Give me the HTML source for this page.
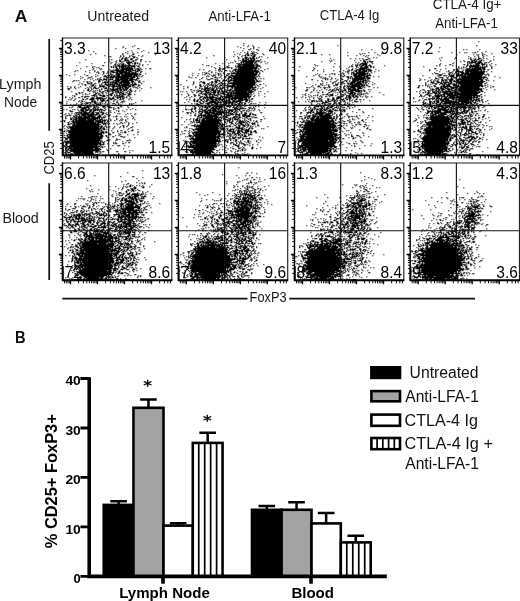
<!DOCTYPE html>
<html lang="en"><head><meta charset="utf-8"><title>Figure</title>
<style>html,body{margin:0;padding:0;background:#fff}svg{display:block}</style>
</head><body>
<svg width="520" height="601" viewBox="0 0 520 601" font-family="'Liberation Sans', sans-serif" fill="#000" style="will-change:transform">
<rect width="520" height="601" fill="#fff"/>
<g font-size="14" fill="#1a1a1a">
<text x="14.7" y="21.7" font-size="16" font-weight="bold" fill="#111" textLength="12.6" lengthAdjust="spacingAndGlyphs">A</text>
<text x="87.3" y="21.1" textLength="61.8" lengthAdjust="spacingAndGlyphs">Untreated</text>
<text x="208.4" y="20.9" textLength="62.6" lengthAdjust="spacingAndGlyphs">Anti-LFA-1</text>
<text x="319.8" y="20.3" textLength="59.6" lengthAdjust="spacingAndGlyphs">CTLA-4 Ig</text>
<text x="432.8" y="9.3" textLength="68.6" lengthAdjust="spacingAndGlyphs">CTLA-4 Ig+</text>
<text x="435.2" y="27.8" textLength="62.6" lengthAdjust="spacingAndGlyphs">Anti-LFA-1</text>
<text x="-0.9" y="89.3" textLength="42.4" lengthAdjust="spacingAndGlyphs">Lymph</text>
<text x="4.1" y="107" textLength="33" lengthAdjust="spacingAndGlyphs">Node</text>
<text x="2.4" y="223.2" textLength="36.4" lengthAdjust="spacingAndGlyphs">Blood</text>
<text transform="translate(53.8 174.6) rotate(-90)" textLength="33.4" lengthAdjust="spacingAndGlyphs">CD25</text>
<text x="249.6" y="301.7" textLength="37" lengthAdjust="spacingAndGlyphs">FoxP3</text>
</g>
<g stroke="#111" stroke-width="1.7" fill="none">
<path d="M49.2 39V130.8M49.2 183.2V280M62.3 298.6H247.5M289.3 298.6H475"/>
</g>
<g font-size="16.8">
<text transform="translate(64.1 54.1) scale(0.925 1)">3.3</text>
<text transform="translate(170.2 54.1) scale(0.925 1)" text-anchor="end">13</text>
<text transform="translate(64.5 153.2) scale(0.925 1)">82</text>
<text transform="translate(170.2 153.2) scale(0.925 1)" text-anchor="end">1.5</text>
</g>
<path transform="translate(.8 .8)" d="M134 45h0M123 46h0M132 46h0M122 47h0M115 48h0M125 48h0M137 48h1M88 50h0M131 50h0M143 50h0M93 51h0M127 51h0M141 51h0M125 52h0M132 52h0M137 52h0M148 52h0M95 53h0M122 53h0M127 53h0M133 53h0M90 54h0M122 54h0M132 54h1M155 54h0M104 55h0M120 55h0M123 55h0M129 55h0M131 55h0M138 55h0M142 55h0M109 56h1M120 56h0M123 56h0M129 56h0M132 56h2M141 56h0M119 57h0M122 57h0M125 57h1M128 57h0M133 57h1M136 57h0M121 58h1M124 58h2M130 58h2M137 58h0M85 59h0M109 59h0M111 59h0M119 59h0M121 59h0M124 59h1M127 59h0M130 59h1M135 59h1M140 59h1M116 60h0M119 60h1M124 60h4M132 60h1M135 60h0M140 60h0M109 61h0M115 61h0M119 61h1M122 61h1M126 61h0M128 61h1M131 61h0M133 61h0M140 61h0M145 61h0M149 61h0M79 62h0M104 62h0M111 62h0M116 62h0M121 62h0M126 62h5M134 62h1M137 62h0M91 63h0M110 63h0M115 63h0M118 63h0M120 63h0M122 63h1M127 63h2M132 63h0M134 63h1M137 63h0M139 63h0M114 64h1M117 64h0M119 64h0M121 64h2M125 64h0M128 64h1M134 64h0M139 64h0M142 64h0M147 64h0M76 65h0M102 65h1M113 65h0M115 65h0M117 65h2M121 65h13M136 65h0M138 65h0M142 65h0M86 66h0M92 66h0M94 66h0M110 66h1M113 66h0M115 66h1M118 66h7M127 66h2M131 66h3M137 66h1M92 67h0M96 67h0M98 67h0M111 67h0M113 67h0M115 67h1M119 67h0M121 67h2M125 67h6M134 67h0M139 67h0M80 68h0M93 68h0M99 68h0M101 68h0M116 68h1M119 68h0M121 68h11M134 68h0M136 68h2M140 68h0M145 68h0M149 68h1M92 69h0M100 69h0M109 69h0M113 69h0M115 69h3M120 69h12M135 69h0M137 69h2M141 69h0M75 70h0M77 70h0M89 70h0M94 70h0M110 70h2M114 70h9M125 70h5M132 70h3M137 70h2M74 71h0M85 71h0M94 71h0M97 71h0M102 71h1M107 71h0M110 71h3M116 71h10M128 71h3M135 71h2M140 71h1M89 72h0M96 72h0M98 72h0M103 72h0M107 72h0M110 72h0M112 72h5M119 72h10M131 72h4M140 72h0M98 73h0M103 73h0M106 73h0M110 73h0M116 73h6M124 73h13M139 73h0M145 73h0M66 74h0M74 74h0M84 74h0M95 74h0M102 74h0M108 74h0M110 74h2M115 74h4M121 74h16M139 74h1M69 75h0M86 75h1M97 75h0M104 75h1M107 75h2M111 75h0M113 75h1M116 75h3M121 75h10M133 75h3M138 75h0M142 75h0M80 76h0M91 76h0M95 76h0M103 76h3M108 76h0M110 76h24M136 76h1M139 76h0M141 76h0M82 77h0M88 77h2M100 77h0M106 77h1M109 77h4M115 77h13M130 77h4M137 77h0M80 78h0M87 78h0M92 78h0M97 78h0M99 78h0M103 78h1M106 78h0M110 78h0M112 78h0M115 78h3M120 78h12M136 78h2M84 79h0M90 79h0M95 79h0M97 79h0M99 79h2M103 79h3M108 79h4M115 79h12M129 79h7M73 80h1M76 80h0M78 80h0M93 80h0M98 80h1M102 80h0M106 80h0M108 80h0M113 80h6M121 80h11M135 80h0M137 80h0M139 80h0M72 81h0M83 81h0M86 81h1M89 81h0M98 81h1M104 81h1M107 81h1M110 81h0M112 81h1M115 81h3M120 81h8M131 81h2M138 81h1M143 81h0M79 82h0M87 82h0M90 82h1M98 82h0M102 82h6M110 82h6M118 82h11M131 82h1M134 82h0M138 82h0M140 82h0M81 83h0M87 83h2M91 83h0M94 83h1M101 83h0M105 83h0M108 83h0M110 83h0M112 83h0M114 83h3M119 83h2M123 83h6M132 83h0M134 83h1M141 83h0M78 84h0M82 84h0M84 84h1M90 84h0M92 84h1M99 84h0M101 84h0M104 84h10M116 84h3M121 84h7M130 84h6M138 84h0M85 85h0M91 85h2M95 85h0M99 85h1M102 85h1M106 85h2M110 85h0M112 85h2M116 85h0M118 85h12M132 85h1M138 85h1M67 86h0M70 86h0M74 86h0M80 86h0M89 86h0M91 86h0M94 86h0M99 86h5M108 86h1M111 86h9M122 86h4M128 86h2M132 86h0M134 86h0M137 86h0M70 87h0M74 87h0M78 87h0M87 87h0M90 87h0M93 87h2M98 87h0M103 87h0M105 87h1M112 87h1M117 87h0M119 87h3M124 87h4M133 87h0M135 87h1M139 87h0M150 87h0M67 88h2M75 88h0M85 88h0M88 88h0M91 88h0M93 88h0M95 88h2M101 88h0M104 88h2M109 88h1M112 88h1M115 88h5M122 88h1M125 88h2M130 88h0M137 88h0M141 88h0M68 89h0M87 89h1M91 89h0M99 89h0M101 89h0M107 89h0M110 89h7M119 89h2M123 89h3M129 89h1M83 90h0M87 90h1M90 90h0M93 90h0M95 90h0M97 90h0M99 90h0M104 90h3M109 90h0M111 90h4M117 90h1M120 90h1M123 90h1M126 90h0M128 90h0M130 90h1M135 90h0M139 90h0M71 91h0M89 91h0M92 91h0M94 91h0M99 91h1M102 91h1M107 91h1M110 91h0M112 91h0M115 91h3M120 91h0M122 91h0M127 91h0M129 91h0M131 91h0M134 91h0M78 92h1M81 92h1M93 92h0M95 92h0M97 92h0M101 92h1M105 92h0M112 92h1M115 92h0M117 92h4M123 92h0M125 92h1M129 92h1M75 93h1M79 93h0M85 93h0M89 93h0M95 93h1M98 93h1M102 93h0M106 93h0M110 93h2M116 93h0M119 93h0M121 93h2M127 93h2M76 94h0M82 94h0M85 94h0M87 94h0M93 94h2M98 94h0M100 94h0M103 94h0M109 94h2M114 94h0M116 94h0M119 94h1M122 94h3M128 94h2M134 94h0M72 95h0M74 95h0M91 95h3M96 95h0M99 95h5M106 95h1M110 95h1M114 95h0M116 95h3M121 95h1M127 95h1M65 96h0M74 96h0M81 96h1M84 96h4M94 96h0M96 96h0M102 96h2M113 96h0M115 96h0M117 96h0M119 96h4M126 96h0M129 96h0M65 97h0M69 97h0M72 97h0M78 97h1M84 97h0M91 97h2M96 97h5M106 97h0M109 97h0M112 97h1M116 97h4M122 97h0M124 97h0M126 97h0M130 97h0M71 98h0M75 98h0M82 98h0M86 98h1M90 98h3M95 98h10M108 98h5M117 98h0M120 98h0M122 98h1M129 98h0M68 99h0M70 99h0M74 99h0M82 99h1M85 99h0M89 99h4M97 99h0M100 99h0M102 99h1M107 99h0M110 99h1M114 99h1M119 99h1M122 99h0M128 99h0M131 99h0M73 100h0M79 100h0M81 100h0M91 100h1M94 100h0M97 100h0M100 100h4M106 100h2M113 100h0M117 100h0M123 100h0M141 100h0M66 101h0M78 101h0M81 101h1M84 101h0M91 101h4M101 101h1M105 101h0M108 101h0M113 101h0M116 101h0M121 101h1M124 101h0M80 102h0M85 102h5M92 102h0M94 102h1M97 102h0M99 102h1M105 102h0M110 102h0M116 102h1M120 102h0M122 102h0M135 102h0M66 103h0M76 103h0M81 103h1M84 103h0M86 103h1M90 103h0M94 103h2M98 103h0M100 103h0M102 103h0M104 103h0M107 103h1M112 103h2M118 103h0M129 103h0M131 103h0M133 103h0M70 104h0M73 104h0M75 104h0M78 104h0M80 104h1M85 104h0M89 104h0M92 104h1M96 104h4M105 104h0M107 104h1M115 104h0M118 104h0M120 104h0M129 104h0M131 104h0M77 105h4M83 105h1M86 105h1M90 105h2M94 105h4M100 105h0M102 105h2M106 105h2M110 105h0M116 105h0M118 105h0M120 105h0M135 105h0M72 106h0M78 106h2M84 106h0M86 106h4M93 106h1M96 106h0M102 106h2M107 106h0M109 106h0M120 106h1M127 106h0M69 107h0M71 107h0M77 107h0M79 107h9M93 107h2M97 107h1M103 107h0M105 107h0M108 107h3M113 107h0M117 107h1M128 107h0M81 108h4M88 108h1M92 108h1M95 108h0M97 108h0M100 108h0M104 108h0M113 108h0M115 108h0M118 108h0M132 108h0M63 109h0M66 109h0M72 109h0M74 109h0M77 109h0M80 109h3M85 109h3M90 109h1M93 109h9M105 109h0M108 109h0M113 109h0M126 109h0M130 109h0M135 109h0M69 110h1M78 110h0M80 110h3M85 110h2M89 110h2M93 110h2M97 110h0M99 110h0M101 110h0M103 110h1M108 110h0M110 110h0M116 110h0M118 110h0M122 110h0M70 111h2M79 111h0M81 111h4M89 111h1M92 111h1M99 111h0M101 111h0M109 111h0M118 111h0M124 111h0M75 112h6M83 112h6M91 112h2M95 112h3M100 112h3M106 112h0M108 112h0M110 112h0M114 112h0M65 113h0M68 113h0M71 113h0M74 113h0M76 113h0M78 113h0M80 113h8M90 113h3M96 113h2M102 113h1M105 113h0M117 113h0M119 113h0M127 113h0M130 113h0M135 113h0M64 114h0M69 114h0M75 114h0M77 114h2M81 114h16M99 114h0M101 114h1M106 114h1M109 114h0M125 114h0M134 114h0M66 115h1M69 115h1M73 115h0M75 115h1M79 115h0M81 115h4M87 115h6M95 115h0M98 115h2M104 115h0M108 115h1M116 115h0M131 115h0M65 116h0M73 116h1M76 116h5M83 116h11M97 116h3M103 116h0M105 116h0M108 116h0M113 116h0M115 116h1M120 116h0M124 116h0M126 116h0M132 116h0M65 117h0M70 117h0M72 117h0M74 117h2M78 117h11M91 117h8M101 117h3M133 117h0M65 118h0M70 118h1M73 118h0M75 118h22M99 118h0M101 118h0M109 118h0M116 118h0M121 118h0M127 118h0M132 118h0M70 119h1M73 119h3M78 119h7M87 119h8M97 119h0M99 119h3M104 119h0M106 119h0M110 119h0M116 119h0M120 119h0M122 119h0M125 119h0M134 119h0M63 120h1M72 120h1M75 120h18M95 120h5M102 120h3M107 120h0M110 120h0M114 120h0M119 120h0M121 120h0M125 120h0M64 121h0M69 121h0M71 121h22M95 121h7M104 121h0M107 121h1M126 121h0M67 122h1M72 122h23M97 122h5M104 122h0M106 122h0M120 122h1M124 122h0M128 122h0M136 122h0M68 123h0M70 123h1M73 123h1M76 123h22M102 123h3M107 123h0M109 123h0M113 123h0M116 123h0M119 123h0M122 123h0M128 123h0M132 123h0M67 124h2M72 124h28M103 124h0M105 124h0M117 124h0M128 124h0M64 125h0M72 125h26M101 125h0M105 125h0M122 125h1M127 125h0M63 126h0M66 126h0M68 126h34M104 126h0M106 126h0M109 126h0M114 126h0M120 126h0M123 126h0M126 126h0M132 126h0M67 127h0M69 127h29M100 127h1M103 127h0M106 127h0M108 127h0M113 127h0M119 127h0M123 127h0M130 127h1M64 128h0M68 128h0M70 128h30M102 128h2M112 128h0M128 128h0M66 129h0M70 129h29M101 129h0M103 129h1M106 129h0M127 129h0M132 129h0M137 129h0M64 130h0M67 130h31M100 130h1M111 130h0M117 130h0M120 130h1M131 130h1M63 131h1M66 131h0M68 131h31M101 131h2M105 131h1M117 131h0M124 131h1M128 131h0M138 131h0M68 132h30M100 132h3M105 132h1M112 132h1M120 132h0M122 132h0M124 132h1M137 132h0M63 133h0M66 133h0M69 133h32M103 133h0M108 133h1M118 133h0M67 134h34M109 134h1M119 134h1M127 134h0M133 134h0M137 134h0M63 135h1M66 135h1M69 135h29M100 135h2M105 135h1M115 135h0M118 135h0M67 136h35M106 136h0M112 136h1M120 136h2M124 136h0M63 137h2M67 137h34M107 137h0M123 137h0M134 137h0M65 138h2M69 138h32M116 138h0M65 139h1M69 139h30M107 139h0M109 139h0M116 139h1M119 139h0M129 139h0M64 140h0M67 140h0M69 140h32M106 140h2M115 140h0M126 140h2M130 140h0M64 141h4M70 141h28M100 141h0M102 141h0M104 141h0M122 141h0M63 142h0M65 142h0M67 142h33M102 142h1M113 142h0M115 142h0M125 142h0M128 142h1M66 143h1M69 143h31M103 143h0M107 143h0M113 143h0M115 143h1M122 143h1M65 144h1M70 144h27M99 144h4M63 145h1M69 145h27M98 145h0M100 145h0M112 145h0M117 145h2M124 145h0M64 146h1M67 146h32M101 146h1M104 146h0M128 146h0M65 147h0M69 147h1M72 147h25M100 147h0M102 147h0M65 148h0M67 148h3M72 148h20M94 148h5M110 148h0M123 148h0M67 149h1M70 149h30M106 149h0M63 150h0M67 150h0M69 150h29M107 150h0M129 150h0M132 150h0M65 151h0M72 151h20M95 151h2M99 151h1M102 151h1M116 151h1M124 151h1M64 152h1M73 152h6M81 152h11M95 152h0M97 152h0M100 152h0M129 152h0M63 153h0M65 153h1M68 153h0M70 153h2M74 153h19M99 153h0M118 153h0M65 154h1M68 154h30M102 154h0M105 154h0M111 154h0M113 154h1M118 154h0M124 154h0" stroke="#000" stroke-width="1.12" stroke-linecap="square" fill="none"/>
<path d="M58.9 129.5H62.5M58.9 102.5H62.5M58.9 75.5H62.5M58.9 48.5H62.5M70.5 155.4V159.5M97.5 155.4V159.5M124.5 155.4V159.5M151.5 155.4V159.5" stroke="#000" stroke-width="1.3" fill="none"/>
<path d="M60.2 148.4H62.5M60.2 143.6H62.5M60.2 140.2H62.5M60.2 137.6H62.5M60.2 135.5H62.5M60.2 133.7H62.5M60.2 132.1H62.5M60.2 130.7H62.5M60.2 121.4H62.5M60.2 116.6H62.5M60.2 113.2H62.5M60.2 110.6H62.5M60.2 108.5H62.5M60.2 106.7H62.5M60.2 105.1H62.5M60.2 103.7H62.5M60.2 94.4H62.5M60.2 89.6H62.5M60.2 86.2H62.5M60.2 83.6H62.5M60.2 81.5H62.5M60.2 79.7H62.5M60.2 78.1H62.5M60.2 76.7H62.5M60.2 67.4H62.5M60.2 62.6H62.5M60.2 59.2H62.5M60.2 56.6H62.5M60.2 54.5H62.5M60.2 52.7H62.5M60.2 51.1H62.5M60.2 49.7H62.5M60.2 40.4H62.5M64.5 155.4V158.5M66.3 155.4V158.5M67.9 155.4V158.5M69.3 155.4V158.5M78.6 155.4V158.5M83.4 155.4V158.5M86.8 155.4V158.5M89.4 155.4V158.5M91.5 155.4V158.5M93.3 155.4V158.5M94.9 155.4V158.5M96.3 155.4V158.5M105.6 155.4V158.5M110.4 155.4V158.5M113.8 155.4V158.5M116.4 155.4V158.5M118.5 155.4V158.5M120.3 155.4V158.5M121.9 155.4V158.5M123.3 155.4V158.5M132.6 155.4V158.5M137.4 155.4V158.5M140.8 155.4V158.5M143.4 155.4V158.5M145.5 155.4V158.5M147.3 155.4V158.5M148.9 155.4V158.5M150.3 155.4V158.5M159.6 155.4V158.5M164.4 155.4V158.5M167.8 155.4V158.5M170.4 155.4V158.5" stroke="#000" stroke-width=".95" fill="none"/>
<path d="M62.5 38.0H171.8V155.4" fill="none" stroke="#222" stroke-width="1.15"/>
<path d="M62.5 37.5V155.4" fill="none" stroke="#000" stroke-width="1.4"/>
<path d="M61.8 155.4H172.4M62.8 141.4V155.4" fill="none" stroke="#000" stroke-width="1.9"/>
<path d="M108.7 38.0V155.4M62.5 105.4H171.8" stroke="#111" stroke-width="1.1" fill="none"/>
<g font-size="16.8">
<text transform="translate(180.0 54.1) scale(0.925 1)">4.2</text>
<text transform="translate(286.1 54.1) scale(0.925 1)" text-anchor="end">40</text>
<text transform="translate(180.4 153.2) scale(0.925 1)">45</text>
<text transform="translate(286.1 153.2) scale(0.925 1)" text-anchor="end">7</text>
</g>
<path transform="translate(.8 .8)" d="M243 43h0M243 45h0M248 45h0M252 45h0M237 46h0M247 46h0M253 46h0M240 47h0M253 47h0M258 47h0M243 48h0M250 48h0M253 48h0M248 49h1M256 49h1M242 50h0M258 50h0M233 51h0M247 51h0M251 51h0M253 51h0M240 52h0M244 52h0M247 52h0M252 52h0M254 52h0M256 52h0M237 53h0M246 53h1M250 53h3M257 53h0M262 53h0M234 54h0M239 54h0M245 54h0M247 54h1M252 54h0M254 54h1M263 54h0M213 55h0M242 55h0M244 55h1M247 55h1M250 55h1M253 55h1M233 56h0M237 56h0M241 56h0M245 56h0M252 56h2M259 56h0M261 56h0M206 57h0M224 57h0M238 57h0M244 57h3M249 57h1M252 57h1M256 57h0M258 57h0M267 57h0M238 58h0M242 58h1M245 58h1M248 58h0M250 58h4M256 58h0M226 59h0M242 59h1M245 59h3M250 59h1M253 59h1M260 59h0M234 60h0M238 60h0M240 60h0M242 60h4M248 60h6M256 60h3M224 61h0M235 61h0M241 61h12M255 61h1M258 61h0M261 61h0M264 61h0M230 62h0M232 62h0M240 62h1M243 62h0M245 62h7M254 62h1M260 62h0M267 62h0M215 63h0M222 63h0M228 63h0M236 63h3M241 63h0M243 63h9M254 63h0M256 63h0M265 63h0M202 64h0M238 64h15M255 64h2M206 65h0M208 65h0M219 65h0M224 65h0M228 65h0M235 65h0M237 65h3M242 65h12M256 65h3M211 66h0M226 66h1M235 66h0M237 66h16M255 66h2M259 66h0M214 67h0M219 67h0M225 67h0M227 67h2M231 67h0M236 67h0M238 67h18M260 67h0M215 68h0M219 68h1M222 68h2M231 68h0M235 68h0M238 68h18M258 68h0M267 68h0M199 69h0M203 69h0M218 69h1M222 69h0M233 69h19M254 69h1M258 69h0M264 69h0M209 70h0M215 70h0M218 70h0M220 70h0M224 70h2M229 70h0M232 70h0M234 70h1M237 70h20M260 70h1M208 71h0M211 71h0M219 71h0M221 71h0M230 71h0M232 71h0M235 71h23M262 71h0M202 72h0M204 72h0M206 72h0M211 72h0M215 72h0M223 72h0M231 72h0M233 72h1M236 72h17M255 72h2M259 72h0M192 73h0M198 73h0M205 73h1M208 73h0M217 73h1M220 73h0M223 73h0M227 73h2M231 73h25M259 73h0M202 74h0M204 74h0M209 74h0M213 74h0M215 74h0M218 74h0M220 74h0M226 74h0M228 74h0M231 74h0M235 74h21M258 74h0M192 75h0M197 75h0M207 75h0M211 75h0M213 75h1M218 75h0M221 75h0M226 75h1M230 75h25M258 75h0M188 76h0M206 76h0M208 76h0M212 76h0M215 76h0M220 76h0M224 76h1M228 76h2M232 76h22M256 76h1M259 76h0M189 77h0M191 77h0M195 77h0M202 77h0M214 77h1M217 77h0M219 77h0M225 77h0M228 77h3M233 77h22M201 78h0M206 78h0M210 78h2M216 78h0M221 78h0M227 78h1M231 78h24M258 78h0M260 78h0M263 78h0M199 79h0M207 79h2M214 79h1M217 79h0M223 79h0M226 79h0M228 79h0M230 79h1M233 79h20M255 79h1M186 80h0M215 80h4M222 80h4M228 80h26M256 80h1M259 80h0M193 81h0M200 81h1M203 81h0M211 81h1M214 81h2M219 81h0M222 81h0M227 81h2M233 81h21M256 81h2M260 81h0M193 82h0M199 82h0M202 82h2M209 82h0M211 82h1M215 82h1M220 82h1M228 82h0M230 82h25M193 83h0M203 83h1M207 83h1M211 83h0M214 83h0M218 83h1M221 83h4M227 83h27M263 83h0M180 84h0M192 84h0M199 84h1M206 84h0M208 84h0M210 84h1M213 84h0M215 84h0M217 84h0M220 84h0M222 84h0M224 84h0M227 84h0M232 84h22M256 84h0M259 84h1M199 85h1M203 85h0M205 85h0M207 85h0M209 85h0M211 85h2M215 85h1M219 85h2M223 85h11M236 85h16M254 85h0M257 85h0M265 85h0M183 86h0M187 86h0M195 86h0M200 86h1M204 86h0M207 86h0M212 86h0M214 86h1M217 86h0M219 86h0M222 86h0M227 86h25M255 86h0M258 86h0M187 87h0M195 87h0M199 87h0M204 87h3M209 87h1M212 87h0M214 87h0M216 87h0M218 87h0M220 87h0M222 87h2M226 87h1M231 87h1M234 87h21M262 87h0M183 88h0M199 88h0M201 88h1M204 88h5M211 88h2M216 88h1M219 88h3M227 88h0M230 88h0M232 88h0M234 88h16M252 88h1M257 88h0M260 88h0M190 89h1M197 89h0M201 89h0M203 89h2M207 89h1M210 89h3M215 89h1M219 89h0M221 89h0M224 89h1M227 89h0M229 89h2M234 89h15M251 89h4M193 90h1M196 90h0M198 90h2M204 90h5M211 90h4M217 90h2M221 90h1M224 90h0M226 90h4M232 90h19M254 90h0M180 91h0M182 91h0M186 91h0M191 91h0M197 91h1M200 91h3M205 91h1M208 91h0M210 91h0M213 91h2M217 91h2M221 91h5M229 91h0M231 91h2M235 91h11M248 91h5M258 91h0M260 91h0M267 91h0M192 92h0M196 92h0M201 92h0M205 92h4M211 92h4M217 92h1M220 92h0M222 92h2M226 92h5M233 92h18M187 93h0M199 93h2M203 93h2M207 93h0M209 93h1M213 93h1M217 93h1M220 93h4M227 93h1M230 93h18M250 93h0M253 93h0M258 93h0M264 93h0M181 94h0M188 94h0M193 94h1M198 94h0M202 94h0M204 94h2M208 94h6M216 94h0M218 94h1M223 94h8M233 94h0M235 94h14M251 94h0M188 95h0M194 95h1M198 95h1M205 95h1M209 95h0M212 95h0M214 95h3M220 95h1M226 95h22M250 95h0M254 95h0M258 95h0M186 96h0M191 96h0M194 96h0M200 96h2M204 96h0M206 96h1M209 96h4M217 96h0M220 96h12M234 96h16M253 96h0M264 96h0M184 97h0M189 97h0M199 97h1M203 97h13M218 97h2M222 97h0M224 97h5M231 97h15M248 97h1M194 98h0M199 98h0M202 98h1M205 98h0M207 98h0M209 98h3M215 98h5M222 98h2M226 98h0M228 98h14M244 98h2M248 98h0M251 98h1M186 99h0M189 99h0M193 99h1M197 99h1M200 99h1M203 99h0M206 99h2M210 99h6M218 99h6M226 99h0M228 99h1M231 99h1M234 99h1M238 99h9M249 99h0M251 99h0M193 100h1M196 100h1M200 100h1M204 100h0M206 100h1M209 100h0M211 100h2M215 100h2M219 100h0M221 100h1M225 100h4M232 100h2M236 100h6M245 100h2M249 100h0M188 101h0M194 101h0M196 101h1M199 101h0M202 101h1M205 101h1M209 101h6M217 101h1M220 101h0M222 101h4M228 101h2M232 101h8M245 101h1M249 101h0M251 101h0M184 102h0M199 102h1M203 102h0M207 102h14M223 102h10M235 102h1M239 102h3M244 102h0M248 102h0M259 102h0M265 102h0M191 103h0M194 103h0M196 103h1M200 103h2M205 103h4M211 103h0M214 103h3M220 103h0M223 103h3M228 103h1M231 103h1M234 103h0M237 103h2M241 103h0M244 103h1M250 103h1M253 103h0M255 103h0M196 104h3M207 104h1M211 104h2M215 104h2M219 104h6M228 104h0M231 104h1M234 104h2M238 104h2M242 104h0M244 104h0M249 104h0M258 104h0M264 104h0M188 105h0M190 105h0M193 105h0M195 105h0M197 105h1M202 105h0M204 105h2M208 105h1M214 105h9M226 105h1M230 105h0M233 105h1M236 105h2M243 105h0M245 105h1M249 105h2M255 105h0M185 106h0M192 106h0M194 106h0M198 106h0M200 106h2M204 106h1M207 106h3M212 106h10M226 106h4M233 106h0M236 106h1M239 106h2M244 106h0M253 106h0M255 106h0M258 106h0M194 107h1M199 107h0M202 107h0M204 107h3M209 107h0M211 107h2M215 107h1M218 107h3M223 107h1M229 107h0M232 107h4M238 107h0M240 107h0M242 107h0M248 107h2M253 107h0M264 107h0M185 108h0M191 108h1M194 108h1M199 108h0M201 108h0M206 108h1M210 108h9M221 108h0M224 108h2M234 108h3M239 108h6M249 108h0M251 108h1M254 108h0M185 109h1M188 109h0M190 109h1M194 109h0M198 109h0M200 109h2M204 109h2M208 109h2M212 109h3M217 109h1M220 109h2M224 109h0M227 109h8M237 109h2M247 109h1M254 109h0M258 109h0M191 110h0M195 110h0M199 110h0M202 110h3M207 110h9M218 110h2M222 110h0M224 110h2M228 110h4M235 110h1M239 110h0M242 110h2M246 110h0M249 110h0M251 110h0M253 110h0M259 110h0M182 111h0M191 111h1M195 111h0M198 111h4M204 111h3M209 111h1M212 111h12M226 111h0M228 111h1M231 111h1M234 111h1M237 111h0M240 111h1M246 111h0M248 111h0M186 112h2M190 112h0M193 112h0M198 112h0M201 112h1M204 112h10M216 112h12M230 112h0M233 112h1M236 112h0M241 112h0M244 112h1M250 112h0M260 112h1M187 113h0M190 113h0M195 113h0M199 113h2M205 113h4M211 113h10M223 113h1M226 113h0M228 113h4M235 113h1M239 113h0M241 113h0M244 113h2M249 113h1M252 113h0M194 114h0M198 114h0M200 114h1M203 114h2M207 114h4M213 114h8M224 114h2M228 114h0M230 114h3M235 114h4M242 114h3M249 114h1M252 114h3M190 115h0M194 115h1M198 115h18M218 115h0M221 115h0M223 115h1M226 115h3M235 115h0M238 115h1M242 115h7M255 115h0M197 116h1M201 116h0M203 116h14M220 116h0M222 116h4M233 116h4M239 116h0M242 116h2M246 116h3M251 116h0M253 116h0M263 116h0M181 117h0M197 117h0M199 117h2M203 117h0M205 117h7M214 117h7M223 117h0M225 117h2M230 117h0M232 117h2M236 117h0M238 117h2M245 117h1M252 117h0M254 117h2M190 118h0M193 118h0M196 118h1M199 118h0M202 118h14M218 118h0M221 118h0M223 118h1M228 118h2M232 118h0M234 118h1M237 118h1M242 118h0M244 118h0M247 118h0M249 118h1M264 118h0M186 119h0M189 119h0M193 119h0M195 119h2M199 119h0M201 119h3M206 119h14M223 119h4M229 119h1M232 119h0M234 119h3M239 119h0M244 119h0M248 119h0M250 119h0M260 119h1M193 120h0M195 120h4M201 120h20M227 120h2M232 120h0M237 120h0M239 120h1M242 120h0M244 120h0M246 120h0M250 120h0M253 120h0M256 120h0M184 121h0M190 121h1M193 121h0M196 121h0M198 121h1M201 121h17M220 121h0M224 121h1M227 121h0M229 121h0M231 121h1M236 121h0M238 121h5M245 121h0M247 121h1M255 121h1M260 121h0M192 122h0M194 122h0M196 122h23M221 122h0M225 122h0M229 122h2M235 122h0M238 122h6M246 122h0M249 122h0M252 122h0M254 122h0M257 122h0M190 123h0M200 123h20M222 123h0M226 123h0M231 123h1M235 123h0M237 123h0M239 123h2M245 123h0M247 123h0M251 123h3M181 124h0M188 124h0M194 124h1M197 124h0M199 124h18M219 124h5M230 124h0M233 124h0M236 124h0M238 124h0M240 124h3M245 124h0M247 124h1M252 124h0M254 124h0M257 124h0M191 125h3M196 125h23M221 125h1M226 125h0M228 125h1M234 125h1M238 125h1M242 125h2M246 125h0M248 125h0M250 125h0M257 125h1M186 126h0M194 126h24M220 126h2M225 126h2M229 126h1M232 126h0M236 126h0M238 126h1M243 126h1M247 126h0M250 126h0M252 126h0M255 126h0M267 126h0M184 127h0M186 127h0M196 127h0M198 127h19M219 127h1M222 127h1M235 127h4M241 127h1M246 127h0M249 127h0M251 127h0M189 128h0M191 128h0M195 128h23M220 128h4M226 128h1M230 128h0M232 128h0M234 128h0M237 128h5M244 128h0M248 128h1M251 128h1M261 128h0M263 128h0M192 129h25M219 129h0M221 129h3M227 129h0M229 129h4M236 129h0M238 129h0M241 129h2M245 129h3M184 130h1M189 130h0M193 130h0M197 130h21M220 130h0M223 130h0M226 130h0M228 130h2M233 130h0M235 130h0M237 130h4M244 130h4M250 130h0M254 130h1M181 131h0M188 131h0M191 131h0M194 131h26M223 131h1M227 131h0M229 131h5M237 131h2M241 131h1M245 131h3M250 131h1M253 131h2M189 132h0M192 132h27M223 132h1M227 132h0M232 132h2M237 132h2M242 132h4M250 132h1M255 132h1M182 133h0M184 133h0M188 133h0M192 133h1M195 133h24M221 133h2M227 133h3M232 133h0M234 133h4M240 133h0M244 133h0M246 133h0M248 133h0M250 133h0M180 134h0M189 134h0M193 134h23M218 134h5M225 134h0M229 134h0M231 134h0M234 134h1M238 134h1M241 134h1M244 134h0M248 134h3M188 135h3M193 135h22M217 135h2M223 135h0M227 135h0M229 135h1M233 135h0M236 135h0M238 135h0M240 135h0M242 135h0M244 135h1M248 135h0M185 136h0M187 136h0M189 136h1M192 136h1M195 136h25M222 136h0M226 136h0M228 136h0M230 136h0M232 136h0M235 136h0M240 136h0M243 136h3M259 136h0M191 137h1M195 137h23M221 137h0M223 137h0M229 137h0M232 137h3M237 137h3M242 137h0M249 137h0M262 137h0M189 138h26M217 138h2M229 138h1M232 138h2M238 138h0M242 138h1M245 138h4M251 138h0M190 139h0M192 139h25M219 139h0M225 139h1M228 139h0M230 139h0M235 139h1M242 139h0M258 139h0M183 140h0M185 140h0M191 140h0M193 140h26M222 140h0M224 140h1M227 140h0M230 140h0M233 140h0M235 140h1M240 140h0M247 140h1M256 140h0M260 140h0M184 141h0M187 141h1M190 141h30M224 141h0M226 141h1M235 141h0M238 141h0M240 141h0M244 141h0M247 141h1M250 141h0M256 141h0M189 142h0M192 142h23M218 142h0M227 142h0M230 142h2M236 142h0M239 142h0M241 142h0M246 142h0M248 142h0M258 142h0M186 143h0M189 143h1M192 143h24M218 143h0M230 143h0M233 143h0M236 143h0M239 143h0M241 143h2M249 143h0M190 144h1M193 144h0M195 144h20M217 144h0M219 144h0M221 144h0M224 144h0M233 144h2M238 144h0M243 144h2M247 144h0M252 144h0M257 144h0M187 145h1M191 145h25M218 145h0M226 145h0M235 145h3M244 145h0M249 145h0M184 146h0M187 146h2M191 146h2M195 146h21M222 146h0M232 146h0M237 146h1M242 146h0M252 146h0M188 147h1M191 147h22M215 147h0M224 147h1M230 147h0M238 147h0M240 147h0M243 147h0M251 147h1M260 147h0M193 148h20M227 148h0M232 148h1M238 148h1M242 148h0M244 148h0M251 148h1M256 148h0M180 149h0M183 149h0M187 149h27M219 149h0M222 149h0M235 149h0M241 149h1M245 149h0M189 150h0M191 150h1M194 150h17M216 150h1M225 150h0M230 150h0M237 150h1M240 150h0M242 150h0M244 150h0M185 151h1M190 151h22M231 151h0M235 151h0M237 151h0M187 152h0M190 152h2M194 152h16M212 152h1M216 152h0M219 152h0M225 152h1M234 152h0M244 152h0M192 153h1M195 153h15M214 153h0M235 153h0M237 153h0M242 153h0M247 153h0M180 154h1M183 154h33M219 154h6M227 154h2M231 154h0M235 154h0M237 154h2M241 154h0M243 154h3M249 154h0" stroke="#000" stroke-width="1.12" stroke-linecap="square" fill="none"/>
<path d="M174.8 129.5H178.4M174.8 102.5H178.4M174.8 75.5H178.4M174.8 48.5H178.4M186.4 155.4V159.5M213.4 155.4V159.5M240.4 155.4V159.5M267.4 155.4V159.5" stroke="#000" stroke-width="1.3" fill="none"/>
<path d="M176.1 148.4H178.4M176.1 143.6H178.4M176.1 140.2H178.4M176.1 137.6H178.4M176.1 135.5H178.4M176.1 133.7H178.4M176.1 132.1H178.4M176.1 130.7H178.4M176.1 121.4H178.4M176.1 116.6H178.4M176.1 113.2H178.4M176.1 110.6H178.4M176.1 108.5H178.4M176.1 106.7H178.4M176.1 105.1H178.4M176.1 103.7H178.4M176.1 94.4H178.4M176.1 89.6H178.4M176.1 86.2H178.4M176.1 83.6H178.4M176.1 81.5H178.4M176.1 79.7H178.4M176.1 78.1H178.4M176.1 76.7H178.4M176.1 67.4H178.4M176.1 62.6H178.4M176.1 59.2H178.4M176.1 56.6H178.4M176.1 54.5H178.4M176.1 52.7H178.4M176.1 51.1H178.4M176.1 49.7H178.4M176.1 40.4H178.4M180.4 155.4V158.5M182.2 155.4V158.5M183.8 155.4V158.5M185.2 155.4V158.5M194.5 155.4V158.5M199.3 155.4V158.5M202.7 155.4V158.5M205.3 155.4V158.5M207.4 155.4V158.5M209.2 155.4V158.5M210.8 155.4V158.5M212.2 155.4V158.5M221.5 155.4V158.5M226.3 155.4V158.5M229.7 155.4V158.5M232.3 155.4V158.5M234.4 155.4V158.5M236.2 155.4V158.5M237.8 155.4V158.5M239.2 155.4V158.5M248.5 155.4V158.5M253.3 155.4V158.5M256.7 155.4V158.5M259.3 155.4V158.5M261.4 155.4V158.5M263.2 155.4V158.5M264.8 155.4V158.5M266.2 155.4V158.5M275.5 155.4V158.5M280.3 155.4V158.5M283.7 155.4V158.5M286.3 155.4V158.5" stroke="#000" stroke-width=".95" fill="none"/>
<path d="M178.4 38.0H287.7V155.4" fill="none" stroke="#222" stroke-width="1.15"/>
<path d="M178.4 37.5V155.4" fill="none" stroke="#000" stroke-width="1.4"/>
<path d="M177.7 155.4H288.2M178.7 141.4V155.4" fill="none" stroke="#000" stroke-width="1.9"/>
<path d="M224.6 38.0V155.4M178.4 105.4H287.7" stroke="#111" stroke-width="1.1" fill="none"/>
<g font-size="16.8">
<text transform="translate(296.1 54.1) scale(0.925 1)">2.1</text>
<text transform="translate(402.2 54.1) scale(0.925 1)" text-anchor="end">9.8</text>
<text transform="translate(296.5 153.2) scale(0.925 1)">87</text>
<text transform="translate(402.2 153.2) scale(0.925 1)" text-anchor="end">1.3</text>
</g>
<path transform="translate(.8 .8)" d="M337 45h0M361 49h0M371 49h0M347 52h0M368 52h0M374 52h0M359 53h0M362 53h0M364 53h0M381 53h0M321 54h0M329 54h0M360 54h0M377 54h0M347 55h0M356 55h0M363 55h0M366 55h0M368 55h0M379 55h0M365 56h0M367 57h0M373 57h0M376 57h0M330 58h0M350 58h0M355 58h0M359 58h0M362 58h0M368 58h1M333 59h0M363 59h0M365 59h2M329 60h0M331 60h0M354 60h0M360 60h0M363 60h1M369 60h0M321 61h0M330 61h0M363 61h2M367 61h0M369 61h3M355 62h0M358 62h0M362 62h0M364 62h1M367 62h0M371 62h0M334 63h0M357 63h0M360 63h6M372 63h0M314 64h0M352 64h0M355 64h0M357 64h0M359 64h1M362 64h4M369 64h0M315 65h0M317 65h0M351 65h0M355 65h2M359 65h0M361 65h2M365 65h1M368 65h2M384 65h0M299 66h0M333 66h0M339 66h0M349 66h0M351 66h1M356 66h0M360 66h1M364 66h3M370 66h1M373 66h0M313 67h0M348 67h0M356 67h0M358 67h0M360 67h7M370 67h0M373 67h0M314 68h0M340 68h0M346 68h0M352 68h0M355 68h0M359 68h7M368 68h0M313 69h0M323 69h0M348 69h0M351 69h1M356 69h8M366 69h4M375 69h0M298 70h0M312 70h0M317 70h0M333 70h0M343 70h0M347 70h0M349 70h0M351 70h0M354 70h2M358 70h2M362 70h4M368 70h3M378 70h0M323 71h0M339 71h0M345 71h0M347 71h1M353 71h0M355 71h1M358 71h8M368 71h0M370 71h0M374 71h0M342 72h0M347 72h0M351 72h2M356 72h8M367 72h0M371 72h0M317 73h0M331 73h1M334 73h0M341 73h0M343 73h0M348 73h0M351 73h0M353 73h14M369 73h0M315 74h0M319 74h0M325 74h0M329 74h0M334 74h0M338 74h0M340 74h0M343 74h0M351 74h0M353 74h3M358 74h7M367 74h0M369 74h0M313 75h0M318 75h0M341 75h0M344 75h0M353 75h11M366 75h4M306 76h0M319 76h0M321 76h0M329 76h0M340 76h0M342 76h1M346 76h2M350 76h1M354 76h7M363 76h4M373 76h0M378 76h0M320 77h0M323 77h0M325 77h0M331 77h0M340 77h0M347 77h1M350 77h0M352 77h0M354 77h10M366 77h3M322 78h0M324 78h1M327 78h0M331 78h0M335 78h0M341 78h0M348 78h0M350 78h0M352 78h13M367 78h2M311 79h1M325 79h0M327 79h0M330 79h0M337 79h0M341 79h1M347 79h0M352 79h11M365 79h0M367 79h0M317 80h0M321 80h0M336 80h0M344 80h2M349 80h0M352 80h6M360 80h0M362 80h4M368 80h0M322 81h0M330 81h0M334 81h1M340 81h0M342 81h1M346 81h0M349 81h0M351 81h4M357 81h6M365 81h0M367 81h0M369 81h0M326 82h0M332 82h1M338 82h0M340 82h2M347 82h0M350 82h4M356 82h4M362 82h1M365 82h1M372 82h0M305 83h0M320 83h0M322 83h0M332 83h0M335 83h0M337 83h0M341 83h0M343 83h1M347 83h5M354 83h7M363 83h0M365 83h0M368 83h0M374 83h0M315 84h0M320 84h1M326 84h0M328 84h0M335 84h2M341 84h0M348 84h0M350 84h12M364 84h0M366 84h0M372 84h0M312 85h0M318 85h0M322 85h0M324 85h0M328 85h0M333 85h1M336 85h0M344 85h0M346 85h1M349 85h0M351 85h8M361 85h3M366 85h1M311 86h0M317 86h2M328 86h1M339 86h1M343 86h1M347 86h14M363 86h0M368 86h1M295 87h0M306 87h1M309 87h0M313 87h0M320 87h0M323 87h2M327 87h0M329 87h0M335 87h0M337 87h0M340 87h0M343 87h0M346 87h0M348 87h0M350 87h4M357 87h3M362 87h0M364 87h0M373 87h0M377 87h0M314 88h0M324 88h0M334 88h0M336 88h0M339 88h0M343 88h1M347 88h3M352 88h3M357 88h4M306 89h1M313 89h0M321 89h0M326 89h0M329 89h1M332 89h1M336 89h2M341 89h0M344 89h1M348 89h10M363 89h0M368 89h0M370 89h0M305 90h1M313 90h0M316 90h0M319 90h0M328 90h0M331 90h1M334 90h1M338 90h0M340 90h0M342 90h3M348 90h0M350 90h11M363 90h1M311 91h0M322 91h0M330 91h1M333 91h0M339 91h0M341 91h1M346 91h0M348 91h4M355 91h4M361 91h0M364 91h0M369 91h0M310 92h0M317 92h1M322 92h0M328 92h1M335 92h0M337 92h0M339 92h0M342 92h0M345 92h0M347 92h0M350 92h4M358 92h0M360 92h0M366 92h0M379 92h0M305 93h0M327 93h0M332 93h0M340 93h0M344 93h0M348 93h4M354 93h1M357 93h0M359 93h0M361 93h0M363 93h0M365 93h0M367 93h0M302 94h0M304 94h0M308 94h0M317 94h0M322 94h1M325 94h2M329 94h3M337 94h0M341 94h2M345 94h0M349 94h1M352 94h2M357 94h1M360 94h1M363 94h0M383 94h0M305 95h0M310 95h0M313 95h0M315 95h0M317 95h0M320 95h0M328 95h0M330 95h2M335 95h0M341 95h0M343 95h0M346 95h3M351 95h2M355 95h1M359 95h0M365 95h0M302 96h0M308 96h0M311 96h0M319 96h0M321 96h0M325 96h1M329 96h0M337 96h5M346 96h0M348 96h2M352 96h1M355 96h2M360 96h0M362 96h0M365 96h0M367 96h0M371 96h0M296 97h0M301 97h0M305 97h0M309 97h0M313 97h0M317 97h0M321 97h0M332 97h1M336 97h3M345 97h1M348 97h2M353 97h1M357 97h0M366 97h0M313 98h0M318 98h2M327 98h1M332 98h1M336 98h2M340 98h0M343 98h0M345 98h0M347 98h0M349 98h1M356 98h0M307 99h0M309 99h0M319 99h0M321 99h0M327 99h1M330 99h0M332 99h2M336 99h0M340 99h3M346 99h1M349 99h0M352 99h0M355 99h1M359 99h1M363 99h0M311 100h3M316 100h0M318 100h0M320 100h1M325 100h0M327 100h1M331 100h1M334 100h1M337 100h0M339 100h0M342 100h0M344 100h0M349 100h0M351 100h0M354 100h0M369 100h0M298 101h0M305 101h0M308 101h0M311 101h1M314 101h0M316 101h1M319 101h0M321 101h1M325 101h1M328 101h2M333 101h1M336 101h0M340 101h0M343 101h1M349 101h0M354 101h3M360 101h0M310 102h0M322 102h5M334 102h1M338 102h1M345 102h0M347 102h0M352 102h0M311 103h0M317 103h0M319 103h0M321 103h1M324 103h0M328 103h2M333 103h1M336 103h0M338 103h1M344 103h0M347 103h0M349 103h0M311 104h0M316 104h0M319 104h0M324 104h1M327 104h0M329 104h0M332 104h1M336 104h0M339 104h2M343 104h2M348 104h1M351 104h0M353 104h0M305 105h0M308 105h0M314 105h0M317 105h2M321 105h4M328 105h0M330 105h0M332 105h2M336 105h0M342 105h0M344 105h0M347 105h0M350 105h1M354 105h0M357 105h0M309 106h0M314 106h4M320 106h1M323 106h0M327 106h1M330 106h2M336 106h0M338 106h0M341 106h0M347 106h1M354 106h0M305 107h0M308 107h0M310 107h0M313 107h1M321 107h1M324 107h0M326 107h1M329 107h2M334 107h2M338 107h0M342 107h2M349 107h0M352 107h0M304 108h0M310 108h0M312 108h0M314 108h1M317 108h0M319 108h3M324 108h0M326 108h2M332 108h1M337 108h0M339 108h0M346 108h0M349 108h0M372 108h0M305 109h0M308 109h1M311 109h1M314 109h0M316 109h2M320 109h1M323 109h3M329 109h1M332 109h1M335 109h0M339 109h1M342 109h2M358 109h1M296 110h0M303 110h0M305 110h0M310 110h2M316 110h0M319 110h3M324 110h1M327 110h4M334 110h3M339 110h2M343 110h1M308 111h0M310 111h1M313 111h0M316 111h1M319 111h2M323 111h0M326 111h0M328 111h4M340 111h0M342 111h0M344 111h0M352 111h0M362 111h0M300 112h1M306 112h4M312 112h1M316 112h9M328 112h0M330 112h1M334 112h0M340 112h0M356 112h0M363 112h0M300 113h0M307 113h0M310 113h0M314 113h9M325 113h5M332 113h0M334 113h0M340 113h1M347 113h0M306 114h0M312 114h1M315 114h1M318 114h4M324 114h5M332 114h0M336 114h0M339 114h2M346 114h0M304 115h0M306 115h0M308 115h2M312 115h3M317 115h0M319 115h12M336 115h0M339 115h0M347 115h0M356 115h0M359 115h0M368 115h0M295 116h0M299 116h2M305 116h0M307 116h2M312 116h18M333 116h1M336 116h1M344 116h0M348 116h1M351 116h1M354 116h0M356 116h0M372 116h0M304 117h1M307 117h0M309 117h0M311 117h3M316 117h2M320 117h11M333 117h0M336 117h0M342 117h0M348 117h0M357 117h0M367 117h0M299 118h0M301 118h1M304 118h0M307 118h1M310 118h3M315 118h19M336 118h0M339 118h2M352 118h0M358 118h0M302 119h0M306 119h0M310 119h18M331 119h1M335 119h0M339 119h0M349 119h0M352 119h0M354 119h0M362 119h0M365 119h0M303 120h1M306 120h3M311 120h22M335 120h0M340 120h0M342 120h0M347 120h1M361 120h1M372 120h0M297 121h0M300 121h0M302 121h1M305 121h0M307 121h5M314 121h19M338 121h1M343 121h1M349 121h1M358 121h0M363 121h0M295 122h0M297 122h0M301 122h1M304 122h26M332 122h3M337 122h0M339 122h2M349 122h0M354 122h0M357 122h0M359 122h0M365 122h0M297 123h0M305 123h28M335 123h1M340 123h0M343 123h1M346 123h0M351 123h0M358 123h0M299 124h3M304 124h30M339 124h0M355 124h1M359 124h1M364 124h1M296 125h0M299 125h1M303 125h32M337 125h4M343 125h0M346 125h0M352 125h0M366 125h0M368 125h0M298 126h0M300 126h0M302 126h0M304 126h31M340 126h1M354 126h0M363 126h1M299 127h0M301 127h33M336 127h0M338 127h1M343 127h0M350 127h0M352 127h0M367 127h0M303 128h27M332 128h1M335 128h0M337 128h0M339 128h1M344 128h0M351 128h0M366 128h1M297 129h0M299 129h1M302 129h34M339 129h0M359 129h0M369 129h1M295 130h0M300 130h1M303 130h0M305 130h32M340 130h0M346 130h0M348 130h0M299 131h32M333 131h3M339 131h0M342 131h0M296 132h1M299 132h0M302 132h0M304 132h29M339 132h0M350 132h0M362 132h0M295 133h0M300 133h0M302 133h34M344 133h0M363 133h0M299 134h1M302 134h34M338 134h1M346 134h0M348 134h0M351 134h0M300 135h4M306 135h26M334 135h3M340 135h0M345 135h0M351 135h0M356 135h2M363 135h0M299 136h36M339 136h0M351 136h1M359 136h0M368 136h0M296 137h0M300 137h3M305 137h28M335 137h5M348 137h0M353 137h0M355 137h0M360 137h0M298 138h0M300 138h35M337 138h1M342 138h1M352 138h1M297 139h0M299 139h37M339 139h0M295 140h0M298 140h29M329 140h4M335 140h1M339 140h0M360 140h0M298 141h0M302 141h3M307 141h28M338 141h0M341 141h0M355 141h0M361 141h0M295 142h0M298 142h0M302 142h33M337 142h0M340 142h0M346 142h0M362 142h0M301 143h33M348 143h1M353 143h1M356 143h0M371 143h0M301 144h0M303 144h30M339 144h0M342 144h0M299 145h35M339 145h0M351 145h0M354 145h0M364 145h0M370 145h0M297 146h0M300 146h2M304 146h32M354 146h0M298 147h2M302 147h26M330 147h1M334 147h1M346 147h0M296 148h0M298 148h0M300 148h0M302 148h3M307 148h23M332 148h1M336 148h0M338 148h0M359 148h0M300 149h27M329 149h2M333 149h0M335 149h0M299 150h1M303 150h2M308 150h22M334 150h1M345 150h0M351 150h0M296 151h0M301 151h0M304 151h0M306 151h0M308 151h19M329 151h1M333 151h1M336 151h0M302 152h0M306 152h19M327 152h2M331 152h0M355 152h0M300 153h0M302 153h0M304 153h3M310 153h11M323 153h0M325 153h3M330 153h1M339 153h0M350 153h0M357 153h0M361 153h0M297 154h35M334 154h1M338 154h0M342 154h1M345 154h0M347 154h0M350 154h0" stroke="#000" stroke-width="1.12" stroke-linecap="square" fill="none"/>
<path d="M290.9 129.5H294.5M290.9 102.5H294.5M290.9 75.5H294.5M290.9 48.5H294.5M302.5 155.4V159.5M329.5 155.4V159.5M356.5 155.4V159.5M383.5 155.4V159.5" stroke="#000" stroke-width="1.3" fill="none"/>
<path d="M292.2 148.4H294.5M292.2 143.6H294.5M292.2 140.2H294.5M292.2 137.6H294.5M292.2 135.5H294.5M292.2 133.7H294.5M292.2 132.1H294.5M292.2 130.7H294.5M292.2 121.4H294.5M292.2 116.6H294.5M292.2 113.2H294.5M292.2 110.6H294.5M292.2 108.5H294.5M292.2 106.7H294.5M292.2 105.1H294.5M292.2 103.7H294.5M292.2 94.4H294.5M292.2 89.6H294.5M292.2 86.2H294.5M292.2 83.6H294.5M292.2 81.5H294.5M292.2 79.7H294.5M292.2 78.1H294.5M292.2 76.7H294.5M292.2 67.4H294.5M292.2 62.6H294.5M292.2 59.2H294.5M292.2 56.6H294.5M292.2 54.5H294.5M292.2 52.7H294.5M292.2 51.1H294.5M292.2 49.7H294.5M292.2 40.4H294.5M296.5 155.4V158.5M298.3 155.4V158.5M299.9 155.4V158.5M301.3 155.4V158.5M310.6 155.4V158.5M315.4 155.4V158.5M318.8 155.4V158.5M321.4 155.4V158.5M323.5 155.4V158.5M325.3 155.4V158.5M326.9 155.4V158.5M328.3 155.4V158.5M337.6 155.4V158.5M342.4 155.4V158.5M345.8 155.4V158.5M348.4 155.4V158.5M350.5 155.4V158.5M352.3 155.4V158.5M353.9 155.4V158.5M355.3 155.4V158.5M364.6 155.4V158.5M369.4 155.4V158.5M372.8 155.4V158.5M375.4 155.4V158.5M377.5 155.4V158.5M379.3 155.4V158.5M380.9 155.4V158.5M382.3 155.4V158.5M391.6 155.4V158.5M396.4 155.4V158.5M399.8 155.4V158.5M402.4 155.4V158.5" stroke="#000" stroke-width=".95" fill="none"/>
<path d="M294.5 38.0H403.8V155.4" fill="none" stroke="#222" stroke-width="1.15"/>
<path d="M294.5 37.5V155.4" fill="none" stroke="#000" stroke-width="1.4"/>
<path d="M293.8 155.4H404.4M294.8 141.4V155.4" fill="none" stroke="#000" stroke-width="1.9"/>
<path d="M340.7 38.0V155.4M294.5 105.4H403.8" stroke="#111" stroke-width="1.1" fill="none"/>
<g font-size="16.8">
<text transform="translate(411.8 54.1) scale(0.925 1)">7.2</text>
<text transform="translate(517.9 54.1) scale(0.925 1)" text-anchor="end">33</text>
<text transform="translate(412.2 153.2) scale(0.925 1)">55</text>
<text transform="translate(517.9 153.2) scale(0.925 1)" text-anchor="end">4.8</text>
</g>
<path transform="translate(.8 .8)" d="M478 41h0M476 45h0M439 47h0M463 49h0M466 49h0M479 49h0M438 51h0M477 51h0M485 51h0M451 52h0M459 52h0M464 52h0M466 52h0M472 52h0M474 52h1M481 52h0M482 53h0M491 53h0M456 54h0M473 54h0M476 54h0M478 54h0M482 54h0M484 54h0M477 55h0M482 55h0M486 55h0M468 56h0M474 56h0M478 56h0M483 56h0M493 56h0M441 57h0M455 57h0M470 57h0M478 57h0M482 57h0M439 58h0M454 58h0M468 58h0M470 58h0M473 58h0M475 58h0M478 58h2M483 58h0M486 58h0M470 59h1M474 59h1M477 59h1M481 59h0M493 59h0M440 60h0M463 60h0M471 60h3M476 60h0M479 60h2M483 60h0M490 60h0M460 61h0M464 61h0M467 61h2M471 61h1M474 61h2M478 61h2M489 61h0M453 62h0M467 62h0M469 62h6M477 62h4M484 62h2M488 62h0M440 63h0M452 63h0M467 63h0M469 63h0M471 63h0M475 63h4M481 63h1M484 63h0M491 63h0M439 64h0M449 64h1M463 64h1M467 64h0M470 64h0M473 64h0M475 64h3M481 64h3M486 64h0M489 64h0M495 64h0M436 65h0M439 65h0M445 65h0M452 65h0M466 65h1M469 65h10M482 65h0M486 65h0M490 65h0M423 66h0M458 66h0M463 66h0M466 66h0M469 66h9M480 66h0M482 66h0M484 66h2M491 66h0M458 67h0M461 67h0M463 67h0M465 67h0M469 67h1M472 67h0M474 67h10M491 67h0M434 68h1M445 68h0M457 68h0M459 68h0M461 68h0M466 68h3M471 68h9M482 68h2M491 68h0M429 69h0M440 69h0M453 69h1M456 69h1M463 69h0M465 69h16M483 69h1M487 69h1M429 70h0M436 70h0M448 70h0M453 70h0M456 70h2M462 70h0M465 70h13M480 70h1M483 70h0M439 71h0M446 71h0M448 71h0M452 71h0M455 71h7M465 71h19M486 71h0M491 71h0M434 72h0M449 72h2M455 72h1M458 72h0M460 72h3M465 72h3M470 72h13M432 73h0M435 73h2M442 73h0M444 73h0M448 73h1M452 73h0M454 73h0M457 73h1M461 73h22M487 73h0M438 74h3M448 74h1M451 74h0M453 74h0M456 74h6M464 74h18M484 74h0M486 74h0M488 74h0M422 75h0M437 75h0M439 75h1M443 75h3M449 75h4M456 75h9M467 75h14M485 75h0M488 75h0M438 76h0M448 76h0M450 76h3M456 76h1M459 76h0M461 76h20M483 76h1M494 76h0M429 77h0M435 77h0M439 77h3M446 77h1M451 77h0M453 77h2M459 77h0M461 77h25M499 77h0M419 78h0M435 78h2M442 78h0M447 78h0M450 78h2M455 78h1M458 78h23M483 78h0M487 78h0M420 79h0M424 79h0M431 79h0M434 79h0M438 79h0M441 79h1M444 79h2M448 79h4M456 79h26M485 79h1M419 80h0M428 80h0M430 80h0M433 80h0M435 80h0M437 80h0M441 80h2M445 80h1M449 80h2M453 80h1M456 80h2M460 80h18M480 80h2M486 80h0M488 80h0M493 80h0M427 81h0M431 81h0M433 81h0M436 81h2M441 81h0M443 81h0M445 81h0M447 81h0M449 81h2M453 81h2M457 81h27M425 82h0M430 82h3M437 82h4M443 82h5M450 82h1M456 82h26M486 82h0M425 83h0M432 83h0M434 83h2M440 83h2M444 83h1M448 83h3M453 83h1M456 83h0M458 83h23M484 83h1M425 84h0M428 84h0M430 84h0M435 84h0M439 84h0M442 84h2M446 84h3M452 84h4M458 84h0M460 84h21M487 84h0M418 85h1M422 85h0M425 85h0M427 85h0M433 85h1M441 85h0M443 85h1M446 85h3M453 85h5M460 85h22M484 85h1M490 85h0M418 86h0M427 86h0M429 86h0M431 86h0M434 86h1M440 86h11M453 86h0M455 86h24M481 86h1M487 86h0M492 86h1M417 87h1M429 87h0M436 87h2M440 87h1M443 87h2M447 87h0M450 87h7M459 87h19M485 87h0M490 87h0M430 88h0M432 88h0M435 88h3M440 88h3M445 88h4M451 88h2M455 88h0M457 88h24M483 88h0M422 89h1M431 89h3M436 89h0M438 89h1M441 89h3M447 89h4M454 89h2M458 89h23M486 89h0M494 89h0M420 90h0M424 90h0M427 90h3M432 90h0M435 90h1M438 90h1M441 90h1M445 90h1M448 90h1M451 90h4M457 90h21M480 90h1M416 91h0M419 91h0M425 91h0M428 91h0M432 91h2M436 91h2M440 91h0M442 91h8M452 91h0M454 91h1M457 91h0M459 91h17M478 91h1M481 91h1M422 92h1M425 92h0M427 92h2M432 92h4M438 92h2M442 92h5M449 92h9M460 92h19M484 92h0M419 93h0M427 93h1M430 93h1M434 93h2M438 93h1M443 93h9M454 93h23M420 94h0M425 94h2M429 94h0M435 94h0M437 94h1M440 94h4M446 94h30M480 94h1M420 95h1M424 95h0M428 95h2M434 95h7M443 95h1M447 95h10M459 95h20M484 95h0M419 96h0M421 96h0M423 96h0M429 96h0M432 96h1M435 96h4M441 96h6M449 96h5M456 96h15M473 96h1M476 96h1M479 96h0M481 96h0M413 97h0M426 97h0M432 97h0M434 97h0M436 97h2M441 97h0M444 97h2M448 97h29M481 97h0M413 98h0M422 98h0M428 98h6M436 98h5M443 98h5M450 98h4M456 98h0M458 98h13M473 98h0M476 98h0M478 98h1M419 99h0M424 99h2M428 99h1M432 99h0M435 99h1M438 99h0M440 99h8M452 99h1M455 99h16M473 99h5M481 99h1M418 100h0M423 100h0M429 100h0M434 100h0M436 100h2M440 100h3M445 100h6M453 100h0M455 100h1M458 100h10M470 100h3M475 100h1M478 100h1M481 100h0M487 100h0M413 101h0M415 101h0M423 101h0M429 101h2M433 101h1M436 101h2M441 101h14M457 101h13M472 101h0M475 101h0M477 101h0M479 101h0M482 101h0M485 101h0M422 102h1M425 102h0M429 102h1M432 102h0M434 102h0M436 102h2M440 102h1M444 102h14M461 102h10M473 102h2M482 102h0M423 103h2M427 103h0M429 103h1M432 103h1M435 103h1M439 103h1M442 103h8M452 103h2M457 103h6M465 103h3M470 103h1M474 103h0M476 103h1M488 103h0M422 104h1M426 104h0M428 104h2M436 104h4M443 104h0M445 104h0M449 104h17M469 104h0M471 104h2M476 104h0M479 104h2M413 105h0M423 105h0M427 105h0M429 105h3M434 105h8M444 105h2M448 105h1M451 105h1M454 105h4M461 105h5M469 105h0M471 105h1M474 105h1M478 105h0M490 105h0M421 106h0M424 106h1M427 106h0M429 106h3M434 106h0M436 106h7M445 106h4M451 106h3M457 106h8M467 106h3M472 106h0M474 106h0M477 106h1M483 106h1M416 107h0M422 107h0M426 107h0M428 107h0M431 107h0M433 107h3M438 107h0M441 107h6M449 107h2M453 107h0M455 107h11M468 107h3M473 107h0M475 107h0M478 107h0M482 107h0M417 108h0M421 108h0M428 108h1M431 108h0M434 108h1M437 108h8M448 108h0M450 108h7M460 108h0M463 108h2M468 108h0M470 108h0M472 108h2M478 108h0M418 109h0M422 109h1M426 109h0M432 109h1M437 109h11M450 109h1M453 109h0M455 109h2M459 109h0M461 109h0M463 109h1M468 109h1M471 109h0M474 109h0M485 109h0M427 110h1M430 110h0M432 110h0M434 110h6M442 110h5M449 110h4M455 110h2M460 110h0M463 110h5M471 110h0M478 110h0M480 110h0M484 110h0M420 111h0M427 111h13M444 111h10M456 111h1M461 111h3M466 111h1M471 111h1M474 111h2M487 111h0M425 112h0M427 112h1M431 112h1M434 112h16M452 112h0M454 112h0M456 112h6M464 112h2M469 112h0M471 112h1M426 113h1M430 113h2M434 113h4M440 113h5M450 113h7M459 113h1M462 113h1M465 113h0M469 113h0M473 113h0M476 113h1M424 114h0M430 114h0M432 114h3M438 114h8M449 114h0M451 114h2M455 114h0M457 114h1M469 114h2M475 114h0M483 114h1M417 115h0M423 115h0M426 115h0M428 115h0M430 115h3M435 115h8M447 115h1M450 115h1M454 115h2M459 115h1M464 115h4M470 115h0M472 115h0M475 115h0M478 115h0M483 115h0M430 116h17M449 116h2M453 116h1M456 116h2M461 116h1M464 116h0M468 116h0M470 116h1M482 116h1M418 117h0M423 117h0M425 117h2M429 117h19M450 117h3M455 117h2M460 117h0M462 117h0M466 117h0M469 117h0M474 117h0M478 117h1M482 117h0M488 117h0M415 118h0M426 118h0M428 118h0M430 118h19M451 118h2M457 118h0M461 118h0M464 118h2M468 118h0M470 118h0M472 118h0M475 118h0M478 118h0M485 118h0M416 119h0M427 119h0M429 119h21M452 119h0M454 119h2M458 119h5M465 119h0M470 119h0M475 119h0M482 119h0M414 120h1M424 120h1M431 120h17M450 120h2M454 120h0M461 120h2M466 120h1M469 120h0M472 120h0M474 120h3M489 120h0M413 121h0M420 121h0M422 121h0M425 121h0M428 121h25M455 121h0M460 121h2M464 121h0M467 121h2M473 121h0M480 121h0M417 122h0M421 122h0M425 122h24M451 122h0M453 122h2M458 122h0M461 122h4M467 122h0M470 122h1M474 122h0M478 122h0M480 122h0M485 122h0M420 123h0M426 123h25M456 123h0M458 123h6M467 123h0M470 123h0M472 123h0M475 123h0M423 124h1M426 124h21M449 124h7M459 124h1M462 124h1M465 124h0M467 124h3M476 124h1M479 124h0M482 124h0M417 125h0M422 125h0M425 125h0M427 125h22M451 125h3M457 125h0M459 125h0M465 125h0M470 125h0M473 125h0M478 125h0M483 125h0M486 125h0M421 126h1M424 126h0M426 126h0M428 126h2M432 126h12M446 126h4M452 126h0M454 126h0M460 126h0M462 126h1M465 126h1M469 126h3M474 126h1M477 126h0M489 126h0M491 126h0M420 127h0M426 127h24M452 127h0M454 127h2M458 127h1M461 127h5M469 127h1M482 127h0M421 128h1M424 128h28M455 128h0M461 128h0M464 128h2M469 128h2M474 128h0M476 128h2M491 128h0M418 129h0M420 129h0M424 129h26M452 129h0M454 129h1M459 129h0M461 129h1M466 129h4M472 129h0M476 129h0M479 129h1M484 129h0M489 129h0M417 130h1M423 130h27M453 130h0M455 130h0M458 130h0M461 130h0M466 130h0M468 130h3M478 130h0M480 130h0M413 131h1M418 131h2M425 131h23M450 131h0M457 131h0M461 131h0M466 131h0M468 131h0M471 131h1M475 131h0M479 131h0M420 132h0M422 132h28M455 132h0M458 132h2M465 132h0M468 132h0M471 132h4M479 132h0M481 132h0M421 133h0M423 133h0M425 133h24M456 133h0M460 133h0M464 133h2M468 133h2M475 133h2M483 133h0M417 134h0M424 134h0M426 134h24M452 134h2M457 134h0M460 134h0M462 134h2M466 134h1M471 134h0M473 134h0M476 134h0M480 134h0M483 134h0M420 135h0M424 135h25M451 135h1M454 135h1M458 135h0M460 135h0M464 135h1M468 135h0M470 135h0M483 135h0M419 136h0M423 136h25M450 136h0M453 136h3M459 136h0M468 136h5M476 136h1M420 137h0M422 137h26M450 137h2M459 137h0M463 137h1M466 137h3M471 137h3M476 137h0M479 137h0M482 137h0M413 138h0M415 138h0M421 138h26M449 138h1M452 138h0M456 138h0M459 138h1M465 138h0M467 138h0M471 138h1M474 138h1M479 138h1M417 139h0M422 139h25M449 139h1M455 139h0M457 139h0M460 139h1M463 139h0M465 139h0M469 139h2M473 139h0M478 139h0M482 139h0M486 139h0M418 140h0M423 140h24M449 140h1M458 140h0M460 140h4M466 140h1M469 140h1M474 140h0M476 140h0M420 141h1M423 141h22M447 141h1M454 141h0M457 141h0M459 141h0M462 141h1M468 141h1M472 141h1M475 141h0M478 141h1M415 142h0M417 142h0M422 142h0M424 142h24M453 142h0M456 142h0M459 142h0M461 142h0M463 142h0M465 142h0M468 142h0M472 142h0M478 142h0M418 143h0M421 143h0M423 143h25M453 143h0M456 143h1M459 143h1M462 143h1M465 143h0M467 143h0M470 143h1M419 144h0M422 144h25M451 144h1M454 144h2M459 144h1M464 144h2M471 144h2M477 144h0M418 145h0M421 145h24M447 145h0M449 145h0M452 145h0M455 145h0M461 145h0M464 145h0M468 145h0M474 145h0M420 146h1M423 146h23M450 146h1M459 146h0M461 146h0M463 146h1M466 146h1M472 146h0M476 146h0M478 146h1M419 147h0M422 147h0M424 147h23M459 147h0M461 147h2M466 147h2M487 147h0M420 148h0M422 148h24M448 148h1M452 148h0M461 148h1M465 148h0M470 148h2M417 149h0M419 149h1M424 149h22M448 149h0M452 149h0M457 149h0M464 149h0M466 149h1M469 149h0M419 150h0M424 150h18M444 150h2M449 150h1M456 150h0M459 150h1M463 150h0M465 150h0M469 150h0M422 151h1M425 151h19M446 151h2M456 151h0M461 151h2M465 151h0M482 151h0M418 152h0M420 152h1M427 152h15M454 152h0M458 152h0M460 152h1M464 152h0M466 152h0M420 153h0M422 153h0M424 153h16M442 153h4M455 153h0M469 153h1M414 154h0M418 154h27M447 154h0M450 154h1M455 154h0M458 154h1M461 154h4M468 154h1M476 154h1M479 154h0M482 154h0" stroke="#000" stroke-width="1.12" stroke-linecap="square" fill="none"/>
<path d="M406.6 129.5H410.2M406.6 102.5H410.2M406.6 75.5H410.2M406.6 48.5H410.2M418.2 155.4V159.5M445.2 155.4V159.5M472.2 155.4V159.5M499.2 155.4V159.5" stroke="#000" stroke-width="1.3" fill="none"/>
<path d="M407.9 148.4H410.2M407.9 143.6H410.2M407.9 140.2H410.2M407.9 137.6H410.2M407.9 135.5H410.2M407.9 133.7H410.2M407.9 132.1H410.2M407.9 130.7H410.2M407.9 121.4H410.2M407.9 116.6H410.2M407.9 113.2H410.2M407.9 110.6H410.2M407.9 108.5H410.2M407.9 106.7H410.2M407.9 105.1H410.2M407.9 103.7H410.2M407.9 94.4H410.2M407.9 89.6H410.2M407.9 86.2H410.2M407.9 83.6H410.2M407.9 81.5H410.2M407.9 79.7H410.2M407.9 78.1H410.2M407.9 76.7H410.2M407.9 67.4H410.2M407.9 62.6H410.2M407.9 59.2H410.2M407.9 56.6H410.2M407.9 54.5H410.2M407.9 52.7H410.2M407.9 51.1H410.2M407.9 49.7H410.2M407.9 40.4H410.2M412.2 155.4V158.5M414.0 155.4V158.5M415.6 155.4V158.5M417.0 155.4V158.5M426.3 155.4V158.5M431.1 155.4V158.5M434.5 155.4V158.5M437.1 155.4V158.5M439.2 155.4V158.5M441.0 155.4V158.5M442.6 155.4V158.5M444.0 155.4V158.5M453.3 155.4V158.5M458.1 155.4V158.5M461.5 155.4V158.5M464.1 155.4V158.5M466.2 155.4V158.5M468.0 155.4V158.5M469.6 155.4V158.5M471.0 155.4V158.5M480.3 155.4V158.5M485.1 155.4V158.5M488.5 155.4V158.5M491.1 155.4V158.5M493.2 155.4V158.5M495.0 155.4V158.5M496.6 155.4V158.5M498.0 155.4V158.5M507.3 155.4V158.5M512.1 155.4V158.5M515.5 155.4V158.5M518.1 155.4V158.5" stroke="#000" stroke-width=".95" fill="none"/>
<path d="M410.2 38.0H519.5V155.4" fill="none" stroke="#222" stroke-width="1.15"/>
<path d="M410.2 37.5V155.4" fill="none" stroke="#000" stroke-width="1.4"/>
<path d="M409.5 155.4H520.0M410.5 141.4V155.4" fill="none" stroke="#000" stroke-width="1.9"/>
<path d="M456.4 38.0V155.4M410.2 105.4H519.5" stroke="#111" stroke-width="1.1" fill="none"/>
<g font-size="16.8">
<text transform="translate(64.1 178.8) scale(0.925 1)">6.6</text>
<text transform="translate(170.2 178.8) scale(0.925 1)" text-anchor="end">13</text>
<text transform="translate(64.5 278.2) scale(0.925 1)">72</text>
<text transform="translate(170.2 278.2) scale(0.925 1)" text-anchor="end">8.6</text>
</g>
<path transform="translate(.8 .8)" d="M142 170h0M127 172h0M94 175h0M120 176h0M132 176h1M142 177h0M136 178h0M87 180h0M125 180h0M138 180h0M121 181h0M136 182h0M141 182h0M144 182h0M127 183h1M139 183h0M142 183h0M144 183h0M123 184h0M126 184h0M130 184h0M151 184h0M90 185h0M129 185h1M132 185h0M136 185h0M139 185h0M142 185h0M109 186h0M115 186h0M123 186h0M125 186h0M127 186h0M129 186h1M134 186h0M141 186h0M143 186h0M149 186h0M122 187h0M126 187h0M133 187h2M142 187h1M86 188h0M118 188h0M122 188h0M130 188h2M134 188h1M91 189h0M98 189h0M109 189h0M121 189h0M127 189h1M131 189h2M137 189h0M89 190h0M113 190h0M126 190h0M128 190h0M130 190h0M132 190h1M135 190h0M138 190h1M90 191h0M92 191h0M115 191h0M125 191h1M131 191h0M133 191h0M142 191h0M147 191h0M118 192h2M126 192h0M129 192h0M137 192h0M142 192h0M145 192h0M97 193h0M116 193h0M119 193h0M121 193h0M123 193h0M127 193h2M132 193h5M139 193h0M141 193h0M143 193h0M150 193h0M112 194h0M118 194h0M122 194h0M126 194h2M131 194h7M140 194h2M145 194h0M111 195h0M116 195h0M119 195h2M125 195h1M129 195h0M131 195h0M134 195h4M140 195h0M144 195h0M81 196h0M91 196h1M94 196h0M96 196h0M100 196h0M112 196h0M125 196h0M128 196h2M132 196h5M141 196h4M153 196h0M88 197h0M90 197h0M115 197h0M117 197h0M122 197h1M127 197h5M134 197h1M138 197h0M141 197h0M143 197h0M78 198h0M80 198h0M82 198h0M84 198h0M91 198h0M95 198h0M100 198h0M102 198h0M115 198h0M119 198h0M121 198h1M124 198h2M128 198h0M130 198h6M138 198h0M140 198h3M152 198h0M83 199h0M91 199h0M93 199h0M115 199h0M117 199h1M121 199h1M124 199h2M129 199h0M131 199h2M135 199h2M139 199h0M76 200h0M87 200h0M90 200h0M95 200h0M99 200h0M115 200h0M120 200h2M124 200h7M133 200h0M135 200h1M139 200h3M89 201h0M115 201h0M117 201h0M120 201h0M125 201h8M136 201h1M140 201h1M144 201h0M147 201h0M92 202h0M94 202h2M98 202h0M101 202h0M103 202h0M109 202h0M114 202h0M121 202h0M124 202h1M128 202h6M136 202h1M144 202h0M67 203h0M74 203h1M85 203h0M87 203h0M93 203h0M96 203h0M105 203h0M112 203h0M119 203h4M126 203h2M130 203h5M140 203h0M142 203h1M146 203h0M148 203h0M159 203h0M66 204h0M74 204h0M86 204h0M92 204h1M105 204h0M107 204h2M114 204h0M117 204h0M120 204h2M125 204h8M135 204h1M138 204h2M80 205h0M83 205h0M87 205h0M89 205h0M93 205h0M98 205h0M110 205h0M112 205h0M114 205h0M117 205h1M120 205h1M123 205h0M125 205h0M127 205h5M135 205h2M140 205h0M147 205h0M149 205h0M65 206h0M70 206h0M74 206h1M78 206h0M82 206h3M89 206h0M92 206h0M96 206h0M102 206h0M104 206h0M106 206h1M110 206h0M112 206h2M116 206h0M120 206h1M123 206h0M125 206h14M145 206h1M75 207h0M81 207h0M88 207h1M103 207h0M107 207h2M111 207h0M113 207h0M117 207h0M119 207h0M121 207h0M123 207h0M125 207h14M143 207h1M150 207h0M65 208h0M72 208h2M81 208h1M88 208h0M91 208h0M93 208h1M97 208h0M100 208h2M107 208h0M110 208h0M112 208h0M114 208h0M117 208h0M120 208h13M137 208h2M141 208h0M144 208h0M65 209h0M68 209h1M83 209h0M91 209h0M95 209h0M99 209h0M101 209h0M104 209h0M109 209h1M115 209h2M119 209h0M121 209h12M135 209h1M138 209h0M140 209h0M143 209h0M145 209h1M67 210h0M72 210h0M76 210h1M80 210h1M84 210h0M86 210h0M88 210h0M91 210h0M101 210h0M106 210h1M109 210h0M113 210h7M122 210h3M127 210h12M141 210h0M143 210h0M74 211h0M76 211h0M80 211h0M82 211h1M86 211h0M95 211h1M99 211h0M102 211h0M104 211h0M107 211h0M109 211h1M115 211h2M120 211h5M127 211h3M132 211h4M139 211h0M141 211h0M64 212h0M70 212h3M76 212h0M81 212h1M89 212h0M91 212h1M96 212h2M103 212h1M116 212h0M118 212h2M122 212h20M145 212h1M151 212h0M64 213h0M66 213h0M69 213h0M78 213h1M81 213h0M84 213h2M88 213h0M90 213h0M92 213h0M94 213h2M98 213h1M101 213h0M103 213h0M105 213h1M116 213h0M118 213h0M120 213h5M128 213h5M135 213h2M66 214h0M71 214h0M73 214h1M76 214h4M82 214h2M86 214h3M93 214h0M97 214h0M99 214h4M106 214h0M108 214h0M113 214h6M121 214h0M123 214h6M131 214h7M141 214h2M65 215h0M68 215h0M71 215h0M73 215h7M82 215h0M84 215h0M86 215h0M89 215h1M96 215h0M99 215h2M103 215h3M108 215h1M114 215h0M118 215h1M121 215h2M125 215h4M131 215h2M135 215h1M143 215h0M63 216h1M69 216h2M73 216h0M75 216h1M78 216h1M81 216h0M84 216h0M88 216h1M91 216h1M94 216h0M97 216h0M104 216h0M108 216h0M113 216h0M117 216h21M140 216h0M64 217h6M72 217h0M74 217h2M78 217h1M81 217h2M86 217h1M89 217h0M92 217h0M94 217h0M96 217h0M98 217h1M101 217h0M103 217h0M107 217h0M110 217h1M118 217h4M124 217h1M127 217h9M138 217h4M144 217h0M66 218h0M69 218h0M72 218h0M75 218h9M86 218h0M88 218h3M93 218h0M98 218h2M102 218h1M106 218h0M112 218h1M115 218h0M117 218h1M120 218h1M124 218h2M128 218h1M131 218h4M138 218h0M147 218h1M65 219h1M68 219h1M71 219h2M75 219h0M77 219h1M81 219h6M89 219h0M91 219h0M93 219h1M98 219h0M103 219h0M105 219h1M108 219h0M110 219h2M114 219h0M116 219h2M120 219h12M135 219h0M137 219h0M140 219h0M142 219h0M145 219h0M63 220h0M66 220h0M70 220h1M73 220h1M78 220h0M80 220h5M87 220h6M97 220h0M99 220h1M103 220h1M117 220h1M120 220h1M124 220h0M127 220h5M136 220h0M138 220h0M140 220h0M144 220h0M66 221h2M70 221h0M73 221h7M82 221h0M84 221h2M88 221h2M93 221h1M97 221h0M99 221h0M101 221h1M104 221h0M107 221h3M113 221h1M118 221h8M128 221h2M132 221h2M136 221h0M139 221h0M141 221h2M67 222h0M70 222h0M74 222h0M77 222h0M82 222h2M88 222h2M93 222h0M96 222h2M102 222h2M107 222h0M109 222h0M111 222h2M117 222h0M119 222h0M122 222h3M127 222h4M133 222h0M141 222h0M64 223h0M68 223h1M75 223h2M80 223h3M87 223h0M90 223h0M92 223h0M96 223h1M100 223h5M107 223h1M112 223h0M114 223h2M121 223h0M123 223h7M132 223h3M138 223h1M63 224h0M68 224h2M72 224h1M75 224h3M82 224h2M86 224h2M91 224h2M97 224h0M100 224h1M104 224h0M107 224h0M109 224h0M111 224h0M113 224h2M118 224h3M123 224h0M125 224h5M133 224h0M135 224h0M137 224h0M143 224h0M145 224h0M149 224h0M64 225h2M68 225h0M70 225h2M74 225h1M78 225h0M81 225h0M83 225h2M88 225h0M90 225h0M94 225h2M98 225h2M103 225h1M106 225h1M110 225h3M115 225h1M118 225h0M120 225h1M123 225h3M128 225h8M138 225h0M67 226h0M71 226h1M75 226h0M79 226h0M81 226h3M87 226h0M89 226h6M98 226h0M101 226h4M108 226h0M112 226h2M116 226h15M133 226h1M137 226h0M139 226h2M146 226h0M66 227h0M68 227h0M70 227h0M72 227h1M79 227h0M81 227h0M84 227h2M92 227h1M97 227h8M107 227h0M110 227h0M115 227h1M118 227h2M122 227h0M124 227h2M130 227h3M135 227h1M139 227h0M143 227h0M148 227h0M69 228h0M74 228h0M77 228h1M82 228h1M86 228h0M90 228h1M94 228h2M103 228h0M108 228h4M115 228h0M117 228h0M119 228h2M123 228h0M126 228h6M137 228h0M74 229h1M78 229h1M81 229h0M83 229h1M87 229h0M89 229h2M93 229h1M96 229h3M101 229h2M106 229h3M114 229h2M119 229h0M122 229h0M124 229h2M128 229h3M133 229h2M138 229h0M63 230h0M69 230h0M74 230h1M79 230h0M85 230h1M89 230h1M92 230h0M94 230h3M100 230h2M107 230h2M111 230h0M114 230h0M116 230h0M118 230h3M124 230h6M132 230h0M135 230h0M148 230h0M70 231h1M73 231h3M80 231h1M86 231h1M89 231h0M93 231h9M104 231h1M107 231h1M112 231h0M114 231h1M117 231h0M119 231h1M122 231h3M127 231h3M132 231h0M134 231h0M138 231h0M140 231h0M70 232h1M78 232h0M82 232h4M89 232h1M93 232h0M95 232h0M97 232h0M99 232h0M101 232h7M110 232h0M118 232h1M121 232h0M123 232h7M132 232h2M139 232h0M144 232h1M77 233h0M84 233h2M89 233h4M95 233h5M103 233h4M109 233h0M111 233h0M117 233h0M119 233h2M123 233h0M125 233h4M134 233h0M68 234h0M78 234h0M80 234h0M83 234h4M89 234h2M93 234h10M105 234h1M109 234h1M113 234h2M117 234h0M119 234h1M122 234h0M124 234h0M128 234h1M131 234h3M138 234h0M142 234h0M69 235h0M74 235h0M79 235h0M83 235h1M86 235h6M94 235h12M108 235h3M113 235h1M117 235h1M120 235h0M127 235h2M132 235h0M134 235h0M80 236h0M84 236h9M95 236h17M115 236h1M118 236h10M130 236h0M132 236h2M136 236h0M138 236h1M69 237h0M76 237h0M85 237h1M88 237h14M104 237h3M109 237h7M118 237h0M122 237h0M125 237h1M128 237h0M130 237h0M135 237h0M137 237h0M144 237h0M78 238h0M80 238h1M84 238h1M87 238h2M91 238h2M95 238h10M107 238h5M114 238h4M121 238h0M125 238h2M129 238h3M142 238h0M71 239h0M74 239h0M76 239h0M78 239h1M81 239h1M84 239h2M88 239h5M95 239h1M98 239h12M112 239h0M115 239h0M118 239h1M123 239h3M128 239h1M137 239h0M141 239h0M144 239h0M65 240h0M68 240h0M73 240h1M79 240h1M83 240h2M87 240h0M89 240h23M115 240h3M121 240h0M127 240h0M129 240h0M131 240h0M135 240h0M137 240h0M139 240h0M80 241h2M84 241h23M109 241h7M118 241h2M124 241h0M128 241h0M131 241h1M137 241h1M154 241h0M69 242h0M77 242h1M80 242h26M110 242h2M114 242h0M117 242h1M120 242h0M123 242h0M125 242h0M127 242h0M131 242h0M136 242h0M140 242h0M78 243h2M82 243h14M98 243h7M107 243h6M115 243h0M118 243h4M124 243h4M130 243h0M132 243h0M139 243h0M66 244h0M71 244h1M75 244h0M77 244h0M79 244h0M81 244h32M117 244h0M120 244h2M124 244h0M126 244h3M134 244h0M140 244h0M75 245h1M79 245h1M82 245h31M115 245h2M119 245h1M124 245h0M126 245h0M128 245h0M130 245h0M135 245h0M143 245h0M64 246h0M70 246h1M73 246h0M75 246h2M80 246h32M114 246h1M118 246h1M121 246h2M125 246h0M127 246h0M129 246h2M133 246h2M143 246h0M68 247h0M70 247h0M72 247h0M77 247h1M80 247h28M110 247h2M115 247h0M117 247h2M123 247h5M130 247h1M134 247h0M137 247h2M67 248h0M74 248h0M79 248h2M83 248h27M112 248h0M114 248h6M123 248h0M127 248h1M132 248h1M135 248h0M144 248h0M70 249h0M72 249h0M75 249h2M80 249h35M118 249h1M121 249h1M124 249h0M126 249h1M130 249h1M134 249h0M139 249h0M69 250h1M72 250h0M76 250h1M79 250h29M110 250h8M120 250h1M123 250h1M126 250h0M129 250h0M138 250h0M72 251h1M75 251h0M78 251h0M80 251h3M85 251h27M114 251h0M116 251h3M122 251h1M125 251h0M130 251h0M135 251h0M140 251h0M68 252h0M71 252h1M76 252h1M79 252h28M109 252h0M111 252h0M113 252h0M115 252h3M121 252h0M123 252h0M127 252h0M130 252h2M136 252h0M73 253h1M76 253h41M122 253h2M127 253h3M132 253h0M136 253h0M138 253h1M74 254h0M76 254h3M81 254h30M113 254h3M118 254h0M120 254h3M128 254h0M131 254h1M135 254h1M65 255h0M69 255h0M72 255h0M74 255h0M78 255h4M84 255h28M114 255h2M119 255h1M122 255h0M125 255h0M129 255h4M72 256h1M75 256h0M79 256h32M113 256h1M116 256h0M118 256h1M121 256h1M124 256h0M129 256h0M132 256h0M134 256h0M72 257h0M74 257h2M79 257h2M83 257h29M115 257h4M121 257h1M124 257h4M130 257h0M133 257h1M137 257h0M144 257h0M71 258h1M74 258h40M116 258h1M119 258h0M122 258h1M125 258h1M128 258h0M130 258h1M133 258h0M135 258h0M72 259h0M75 259h1M78 259h34M116 259h7M126 259h0M130 259h0M133 259h0M136 259h0M138 259h0M145 259h0M71 260h1M74 260h0M76 260h37M115 260h2M120 260h3M125 260h0M127 260h1M130 260h0M133 260h1M68 261h0M71 261h0M74 261h0M76 261h2M80 261h0M82 261h31M116 261h0M118 261h0M120 261h2M126 261h0M128 261h0M132 261h0M136 261h0M74 262h39M115 262h7M124 262h0M126 262h0M130 262h3M135 262h0M137 262h0M74 263h0M77 263h1M80 263h1M83 263h27M112 263h0M114 263h4M120 263h0M123 263h0M125 263h0M127 263h3M132 263h0M134 263h0M67 264h0M74 264h1M79 264h32M113 264h2M117 264h0M119 264h0M126 264h0M128 264h1M131 264h1M135 264h1M72 265h0M74 265h38M114 265h2M118 265h0M122 265h0M125 265h0M127 265h1M130 265h1M135 265h0M74 266h2M78 266h0M80 266h32M114 266h0M118 266h0M121 266h1M126 266h1M72 267h0M77 267h1M80 267h2M84 267h27M114 267h1M118 267h0M122 267h2M126 267h0M129 267h0M131 267h1M135 267h0M74 268h3M79 268h0M82 268h35M121 268h0M123 268h2M133 268h0M136 268h0M140 268h0M73 269h1M76 269h0M78 269h0M80 269h30M113 269h2M117 269h0M120 269h2M126 269h2M132 269h2M71 270h0M73 270h0M79 270h27M108 270h3M113 270h2M119 270h0M132 270h0M136 270h0M74 271h0M76 271h1M79 271h31M113 271h0M116 271h0M118 271h1M129 271h0M133 271h0M72 272h0M77 272h36M115 272h0M118 272h1M121 272h1M124 272h1M74 273h1M79 273h31M112 273h0M117 273h1M120 273h2M126 273h1M76 274h2M80 274h31M128 274h0M134 274h1M76 275h1M81 275h25M111 275h0M114 275h0M118 275h0M124 275h0M127 275h0M130 275h0M138 275h0M140 275h0M79 276h1M83 276h20M106 276h4M112 276h0M115 276h0M117 276h0M137 276h0M140 276h0M65 277h0M72 277h0M77 277h0M80 277h1M84 277h14M100 277h2M105 277h1M109 277h0M111 277h2M115 277h0M137 277h0M69 278h0M71 278h0M77 278h3M83 278h1M86 278h16M104 278h2M110 278h0M116 278h1M120 278h0M125 278h0M67 279h0M71 279h47M120 279h0M122 279h1M125 279h4M132 279h1M138 279h0M141 279h0" stroke="#000" stroke-width="1.12" stroke-linecap="square" fill="none"/>
<path d="M58.9 254.5H62.5M58.9 227.5H62.5M58.9 200.5H62.5M58.9 173.5H62.5M70.5 280.2V284.3M97.5 280.2V284.3M124.5 280.2V284.3M151.5 280.2V284.3" stroke="#000" stroke-width="1.3" fill="none"/>
<path d="M60.2 273.4H62.5M60.2 268.6H62.5M60.2 265.2H62.5M60.2 262.6H62.5M60.2 260.5H62.5M60.2 258.7H62.5M60.2 257.1H62.5M60.2 255.7H62.5M60.2 246.4H62.5M60.2 241.6H62.5M60.2 238.2H62.5M60.2 235.6H62.5M60.2 233.5H62.5M60.2 231.7H62.5M60.2 230.1H62.5M60.2 228.7H62.5M60.2 219.4H62.5M60.2 214.6H62.5M60.2 211.2H62.5M60.2 208.6H62.5M60.2 206.5H62.5M60.2 204.7H62.5M60.2 203.1H62.5M60.2 201.7H62.5M60.2 192.4H62.5M60.2 187.6H62.5M60.2 184.2H62.5M60.2 181.6H62.5M60.2 179.5H62.5M60.2 177.7H62.5M60.2 176.1H62.5M60.2 174.7H62.5M60.2 165.4H62.5M64.5 280.2V283.3M66.3 280.2V283.3M67.9 280.2V283.3M69.3 280.2V283.3M78.6 280.2V283.3M83.4 280.2V283.3M86.8 280.2V283.3M89.4 280.2V283.3M91.5 280.2V283.3M93.3 280.2V283.3M94.9 280.2V283.3M96.3 280.2V283.3M105.6 280.2V283.3M110.4 280.2V283.3M113.8 280.2V283.3M116.4 280.2V283.3M118.5 280.2V283.3M120.3 280.2V283.3M121.9 280.2V283.3M123.3 280.2V283.3M132.6 280.2V283.3M137.4 280.2V283.3M140.8 280.2V283.3M143.4 280.2V283.3M145.5 280.2V283.3M147.3 280.2V283.3M148.9 280.2V283.3M150.3 280.2V283.3M159.6 280.2V283.3M164.4 280.2V283.3M167.8 280.2V283.3M170.4 280.2V283.3" stroke="#000" stroke-width=".95" fill="none"/>
<path d="M62.5 163.0H171.8V280.2" fill="none" stroke="#222" stroke-width="1.15"/>
<path d="M62.5 162.4V280.2" fill="none" stroke="#000" stroke-width="1.4"/>
<path d="M61.8 280.2H172.4M62.8 266.2V280.2" fill="none" stroke="#000" stroke-width="1.9"/>
<path d="M108.7 163.0V280.2M62.5 230.8H171.8" stroke="#111" stroke-width="1.1" fill="none"/>
<g font-size="16.8">
<text transform="translate(180.0 178.8) scale(0.925 1)">1.8</text>
<text transform="translate(286.1 178.8) scale(0.925 1)" text-anchor="end">16</text>
<text transform="translate(180.4 278.2) scale(0.925 1)">73</text>
<text transform="translate(286.1 278.2) scale(0.925 1)" text-anchor="end">9.6</text>
</g>
<path transform="translate(.8 .8)" d="M238 167h0M247 172h0M251 172h0M246 173h0M256 173h0M222 174h0M236 175h0M245 175h0M249 175h0M238 177h0M251 177h1M256 177h0M259 177h0M247 178h0M244 179h0M246 179h0M253 179h1M259 179h0M264 179h0M242 180h0M250 180h0M226 181h0M237 181h0M239 181h0M250 181h0M258 181h0M260 181h0M237 182h0M248 182h0M250 182h1M254 182h0M256 182h0M226 183h0M246 183h0M248 183h0M255 183h0M236 184h0M253 184h0M233 185h0M242 185h0M247 185h0M268 185h0M234 186h0M237 186h0M242 186h0M246 186h1M249 186h0M251 186h1M257 186h0M264 186h0M233 187h0M244 187h0M247 187h0M249 187h0M251 187h0M240 188h0M245 188h0M247 188h0M252 188h1M257 188h1M260 188h0M235 189h0M237 189h0M246 189h1M254 189h1M260 189h0M265 189h0M232 190h0M234 190h0M239 190h1M243 190h2M248 190h0M250 190h2M254 190h0M259 190h0M262 190h0M239 191h0M241 191h0M244 191h0M246 191h1M249 191h0M254 191h0M258 191h0M196 192h0M212 192h0M237 192h0M239 192h0M241 192h0M244 192h0M246 192h0M249 192h0M252 192h0M254 192h1M257 192h0M259 192h0M228 193h0M234 193h0M240 193h0M242 193h4M248 193h0M250 193h1M253 193h0M199 194h0M207 194h0M219 194h0M235 194h1M238 194h0M240 194h2M244 194h6M254 194h1M258 194h1M204 195h0M227 195h0M232 195h0M234 195h0M236 195h0M240 195h0M243 195h0M245 195h0M247 195h7M257 195h1M261 195h0M264 195h0M235 196h0M237 196h3M243 196h0M245 196h0M247 196h0M249 196h3M254 196h0M256 196h0M234 197h0M236 197h0M239 197h0M242 197h6M250 197h5M258 197h0M260 197h1M201 198h0M221 198h0M225 198h0M230 198h0M232 198h0M235 198h3M240 198h0M242 198h4M248 198h2M252 198h3M259 198h0M261 198h1M206 199h0M212 199h0M220 199h0M230 199h0M234 199h0M238 199h2M242 199h3M247 199h1M250 199h3M255 199h0M257 199h0M259 199h1M266 199h0M201 200h0M214 200h0M216 200h0M218 200h0M220 200h0M227 200h0M233 200h2M237 200h1M241 200h0M243 200h5M250 200h0M252 200h0M254 200h2M200 201h0M226 201h0M233 201h18M254 201h0M256 201h0M258 201h0M267 201h0M230 202h0M233 202h1M236 202h1M239 202h0M241 202h2M245 202h7M255 202h2M259 202h1M264 202h0M213 203h1M216 203h0M220 203h1M223 203h0M226 203h0M231 203h0M234 203h4M240 203h7M249 203h0M251 203h0M255 203h0M267 203h0M209 204h0M212 204h0M226 204h0M229 204h0M233 204h0M236 204h6M244 204h7M253 204h2M257 204h0M259 204h0M261 204h0M271 204h0M199 205h0M205 205h0M207 205h0M218 205h0M226 205h0M228 205h0M231 205h0M233 205h0M236 205h0M238 205h0M240 205h6M248 205h3M253 205h0M255 205h2M260 205h0M207 206h0M210 206h0M213 206h0M222 206h0M232 206h0M234 206h0M237 206h2M241 206h6M249 206h4M255 206h0M257 206h0M261 206h0M206 207h1M211 207h1M214 207h0M218 207h0M224 207h0M227 207h0M229 207h0M234 207h1M237 207h11M250 207h1M253 207h2M257 207h2M263 207h0M212 208h0M218 208h1M232 208h0M234 208h3M239 208h11M252 208h5M259 208h0M195 209h0M202 209h0M210 209h0M217 209h0M224 209h0M226 209h1M232 209h0M234 209h0M236 209h7M245 209h4M252 209h0M255 209h0M258 209h0M264 209h0M198 210h1M205 210h0M214 210h0M220 210h0M227 210h4M234 210h15M252 210h0M254 210h2M207 211h0M211 211h0M216 211h0M221 211h0M228 211h20M251 211h0M253 211h5M264 211h0M199 212h0M203 212h0M209 212h0M216 212h0M220 212h2M226 212h0M228 212h0M230 212h0M232 212h0M235 212h3M240 212h13M255 212h0M259 212h0M264 212h0M202 213h0M211 213h0M213 213h0M217 213h0M219 213h0M225 213h1M228 213h4M235 213h0M237 213h15M255 213h1M260 213h0M262 213h0M194 214h0M198 214h0M215 214h1M220 214h0M223 214h0M228 214h0M231 214h17M250 214h1M254 214h0M208 215h0M212 215h1M219 215h2M226 215h0M229 215h4M235 215h16M253 215h1M257 215h0M259 215h0M198 216h0M200 216h0M206 216h0M210 216h0M212 216h0M218 216h0M220 216h0M227 216h0M231 216h0M233 216h1M236 216h14M252 216h4M258 216h2M263 216h0M182 217h0M193 217h0M204 217h1M210 217h2M218 217h1M224 217h3M229 217h7M238 217h0M240 217h8M251 217h4M204 218h1M207 218h0M211 218h0M214 218h0M219 218h0M221 218h0M223 218h0M225 218h1M229 218h0M231 218h0M234 218h0M236 218h5M243 218h4M249 218h0M251 218h0M253 218h1M256 218h0M200 219h0M202 219h0M207 219h0M212 219h0M214 219h0M216 219h1M221 219h2M226 219h3M233 219h0M236 219h0M238 219h4M244 219h4M250 219h0M252 219h1M255 219h0M211 220h0M216 220h1M222 220h2M228 220h0M232 220h9M243 220h8M253 220h0M255 220h0M257 220h0M204 221h0M208 221h0M211 221h0M214 221h0M217 221h1M223 221h0M226 221h6M235 221h5M242 221h9M253 221h1M260 221h0M206 222h0M211 222h0M215 222h1M222 222h0M224 222h4M230 222h1M236 222h1M240 222h5M247 222h1M250 222h2M256 222h0M258 222h0M197 223h0M203 223h0M210 223h0M214 223h0M216 223h2M220 223h0M222 223h2M227 223h2M232 223h4M238 223h0M240 223h5M247 223h0M249 223h1M252 223h0M255 223h0M257 223h0M204 224h2M211 224h1M217 224h0M219 224h0M221 224h0M223 224h0M225 224h1M229 224h0M233 224h1M236 224h7M245 224h4M252 224h0M255 224h0M257 224h0M199 225h0M203 225h1M206 225h0M211 225h1M217 225h0M220 225h0M223 225h0M225 225h1M228 225h0M231 225h4M237 225h2M242 225h4M248 225h0M250 225h0M252 225h0M257 225h0M186 226h0M202 226h0M212 226h1M216 226h0M225 226h0M227 226h1M233 226h0M235 226h1M238 226h1M241 226h5M248 226h1M252 226h1M255 226h0M259 226h0M205 227h0M208 227h0M213 227h0M217 227h1M220 227h3M225 227h0M229 227h1M232 227h0M234 227h8M244 227h0M246 227h2M250 227h0M252 227h1M201 228h0M203 228h0M215 228h0M217 228h0M219 228h2M224 228h0M226 228h0M230 228h1M233 228h0M235 228h2M239 228h2M243 228h2M247 228h2M254 228h0M261 228h0M198 229h0M202 229h0M210 229h0M213 229h0M215 229h0M217 229h2M221 229h2M226 229h0M231 229h1M234 229h1M238 229h0M240 229h2M245 229h0M247 229h3M195 230h0M202 230h1M205 230h0M213 230h1M218 230h0M221 230h3M228 230h1M231 230h0M234 230h2M238 230h0M240 230h2M246 230h3M251 230h0M211 231h0M213 231h0M215 231h2M220 231h3M225 231h0M227 231h0M230 231h3M235 231h0M237 231h1M240 231h1M244 231h1M247 231h0M249 231h1M252 231h0M256 231h0M208 232h0M221 232h1M224 232h1M227 232h0M231 232h1M236 232h2M240 232h5M248 232h2M252 232h1M255 232h0M200 233h1M206 233h1M209 233h0M214 233h0M218 233h0M222 233h0M224 233h0M226 233h2M231 233h0M234 233h0M236 233h0M238 233h5M245 233h0M248 233h3M253 233h0M255 233h0M189 234h0M192 234h0M194 234h0M207 234h0M213 234h0M217 234h0M224 234h3M230 234h0M232 234h1M235 234h3M242 234h4M252 234h3M259 234h0M197 235h0M200 235h0M202 235h0M205 235h1M211 235h0M217 235h0M220 235h3M229 235h0M234 235h0M236 235h1M240 235h3M248 235h0M250 235h0M252 235h1M188 236h0M203 236h3M208 236h0M211 236h0M214 236h4M220 236h1M224 236h1M228 236h2M233 236h4M239 236h0M243 236h3M248 236h0M253 236h0M200 237h0M203 237h0M205 237h0M208 237h0M213 237h0M216 237h0M218 237h4M224 237h1M228 237h0M231 237h0M236 237h2M240 237h0M242 237h0M245 237h0M247 237h1M250 237h2M256 237h0M196 238h0M198 238h0M202 238h1M206 238h1M209 238h1M212 238h0M214 238h5M221 238h1M224 238h0M226 238h1M231 238h0M233 238h0M235 238h0M237 238h2M241 238h1M244 238h1M248 238h1M251 238h0M253 238h0M256 238h0M190 239h0M199 239h2M204 239h0M206 239h2M212 239h0M214 239h1M217 239h0M220 239h2M225 239h2M230 239h1M234 239h2M238 239h1M241 239h4M249 239h1M258 239h0M197 240h0M202 240h0M204 240h0M207 240h4M213 240h0M218 240h6M226 240h0M228 240h3M236 240h1M239 240h2M243 240h1M246 240h3M251 240h0M255 240h0M194 241h0M199 241h4M205 241h5M212 241h4M218 241h1M224 241h0M226 241h0M228 241h0M231 241h0M233 241h0M236 241h0M238 241h1M241 241h1M245 241h1M248 241h3M197 242h0M199 242h1M202 242h11M215 242h2M220 242h3M225 242h2M230 242h1M234 242h2M238 242h0M241 242h1M245 242h1M251 242h1M254 242h0M190 243h0M192 243h0M196 243h2M201 243h0M203 243h0M205 243h3M210 243h5M218 243h0M220 243h0M222 243h5M236 243h7M245 243h0M247 243h2M251 243h1M254 243h0M258 243h0M260 243h0M190 244h1M194 244h0M197 244h1M200 244h1M203 244h0M205 244h0M207 244h15M230 244h0M235 244h0M238 244h1M244 244h0M252 244h1M191 245h0M197 245h1M200 245h19M221 245h1M224 245h3M229 245h2M234 245h0M236 245h0M240 245h2M244 245h1M247 245h1M250 245h0M194 246h5M201 246h7M210 246h4M216 246h8M227 246h0M232 246h1M235 246h1M238 246h3M243 246h3M249 246h0M251 246h2M256 246h0M195 247h0M197 247h19M218 247h5M225 247h3M231 247h0M235 247h1M238 247h0M240 247h0M242 247h4M251 247h0M256 247h0M193 248h33M229 248h3M234 248h0M236 248h0M239 248h1M243 248h2M247 248h1M253 248h0M193 249h2M197 249h30M229 249h0M235 249h2M241 249h3M246 249h2M253 249h0M190 250h2M194 250h32M228 250h0M232 250h10M244 250h6M252 250h1M255 250h0M187 251h2M193 251h0M195 251h32M230 251h1M233 251h3M239 251h0M241 251h1M244 251h3M251 251h0M254 251h0M183 252h0M188 252h0M191 252h2M195 252h35M232 252h0M234 252h5M242 252h0M246 252h1M250 252h0M254 252h0M258 252h0M182 253h0M188 253h0M191 253h1M195 253h33M230 253h0M233 253h4M239 253h4M245 253h1M249 253h0M251 253h0M253 253h0M255 253h0M257 253h0M180 254h0M190 254h1M193 254h33M229 254h3M234 254h1M237 254h0M240 254h0M242 254h0M245 254h0M247 254h0M249 254h0M251 254h0M183 255h0M188 255h0M190 255h0M192 255h37M231 255h0M233 255h2M237 255h0M239 255h0M241 255h0M243 255h1M247 255h3M257 255h0M186 256h0M188 256h0M190 256h39M231 256h1M234 256h2M239 256h1M244 256h1M248 256h1M254 256h0M184 257h0M188 257h1M192 257h37M234 257h0M236 257h0M239 257h1M242 257h1M245 257h0M247 257h1M250 257h0M253 257h0M256 257h0M190 258h2M194 258h41M237 258h0M239 258h8M251 258h0M254 258h0M185 259h0M187 259h0M192 259h42M236 259h1M239 259h0M242 259h3M250 259h1M256 259h0M186 260h0M189 260h42M237 260h6M249 260h0M251 260h0M255 260h1M180 261h0M188 261h1M191 261h39M233 261h0M235 261h2M239 261h0M241 261h3M254 261h0M179 262h1M185 262h1M188 262h1M191 262h45M239 262h0M241 262h1M244 262h0M181 263h0M187 263h3M192 263h37M231 263h0M237 263h0M239 263h4M248 263h0M253 263h0M256 263h0M183 264h0M188 264h1M191 264h42M235 264h1M238 264h0M241 264h0M243 264h0M245 264h2M251 264h0M263 264h0M185 265h0M188 265h0M190 265h39M232 265h3M238 265h0M240 265h0M244 265h1M248 265h0M250 265h0M253 265h0M257 265h0M181 266h0M188 266h0M190 266h40M232 266h3M237 266h0M239 266h1M242 266h0M244 266h0M248 266h0M250 266h0M181 267h0M185 267h0M188 267h0M190 267h38M230 267h1M233 267h2M238 267h1M241 267h0M246 267h0M187 268h1M190 268h35M227 268h0M229 268h5M236 268h0M239 268h1M242 268h2M250 268h0M252 268h0M186 269h1M191 269h34M227 269h0M229 269h4M242 269h1M247 269h2M251 269h0M179 270h0M184 270h0M188 270h0M190 270h40M237 270h0M249 270h0M189 271h0M191 271h2M195 271h33M230 271h0M234 271h0M239 271h1M242 271h0M245 271h1M182 272h0M184 272h0M190 272h1M193 272h0M195 272h0M198 272h28M228 272h0M230 272h0M233 272h1M236 272h0M242 272h0M245 272h1M251 272h0M183 273h0M189 273h0M191 273h1M194 273h25M221 273h0M223 273h3M230 273h1M237 273h0M241 273h0M243 273h1M251 273h0M187 274h0M191 274h1M194 274h25M221 274h3M226 274h1M230 274h0M232 274h0M239 274h0M241 274h0M243 274h0M186 275h0M190 275h1M194 275h3M199 275h23M224 275h1M227 275h2M231 275h0M237 275h0M241 275h0M244 275h4M187 276h0M192 276h6M200 276h20M222 276h0M224 276h2M229 276h0M232 276h2M237 276h1M241 276h0M243 276h0M183 277h2M192 277h0M194 277h0M196 277h23M221 277h2M225 277h0M227 277h0M229 277h0M238 277h0M242 277h0M248 277h0M190 278h3M196 278h1M199 278h0M201 278h14M217 278h1M221 278h1M227 278h0M230 278h0M234 278h0M237 278h0M239 278h1M186 279h1M189 279h0M191 279h29M222 279h2M226 279h0M231 279h5M238 279h6M246 279h1M250 279h1" stroke="#000" stroke-width="1.12" stroke-linecap="square" fill="none"/>
<path d="M174.8 254.5H178.4M174.8 227.5H178.4M174.8 200.5H178.4M174.8 173.5H178.4M186.4 280.2V284.3M213.4 280.2V284.3M240.4 280.2V284.3M267.4 280.2V284.3" stroke="#000" stroke-width="1.3" fill="none"/>
<path d="M176.1 273.4H178.4M176.1 268.6H178.4M176.1 265.2H178.4M176.1 262.6H178.4M176.1 260.5H178.4M176.1 258.7H178.4M176.1 257.1H178.4M176.1 255.7H178.4M176.1 246.4H178.4M176.1 241.6H178.4M176.1 238.2H178.4M176.1 235.6H178.4M176.1 233.5H178.4M176.1 231.7H178.4M176.1 230.1H178.4M176.1 228.7H178.4M176.1 219.4H178.4M176.1 214.6H178.4M176.1 211.2H178.4M176.1 208.6H178.4M176.1 206.5H178.4M176.1 204.7H178.4M176.1 203.1H178.4M176.1 201.7H178.4M176.1 192.4H178.4M176.1 187.6H178.4M176.1 184.2H178.4M176.1 181.6H178.4M176.1 179.5H178.4M176.1 177.7H178.4M176.1 176.1H178.4M176.1 174.7H178.4M176.1 165.4H178.4M180.4 280.2V283.3M182.2 280.2V283.3M183.8 280.2V283.3M185.2 280.2V283.3M194.5 280.2V283.3M199.3 280.2V283.3M202.7 280.2V283.3M205.3 280.2V283.3M207.4 280.2V283.3M209.2 280.2V283.3M210.8 280.2V283.3M212.2 280.2V283.3M221.5 280.2V283.3M226.3 280.2V283.3M229.7 280.2V283.3M232.3 280.2V283.3M234.4 280.2V283.3M236.2 280.2V283.3M237.8 280.2V283.3M239.2 280.2V283.3M248.5 280.2V283.3M253.3 280.2V283.3M256.7 280.2V283.3M259.3 280.2V283.3M261.4 280.2V283.3M263.2 280.2V283.3M264.8 280.2V283.3M266.2 280.2V283.3M275.5 280.2V283.3M280.3 280.2V283.3M283.7 280.2V283.3M286.3 280.2V283.3" stroke="#000" stroke-width=".95" fill="none"/>
<path d="M178.4 163.0H287.7V280.2" fill="none" stroke="#222" stroke-width="1.15"/>
<path d="M178.4 162.4V280.2" fill="none" stroke="#000" stroke-width="1.4"/>
<path d="M177.7 280.2H288.2M178.7 266.2V280.2" fill="none" stroke="#000" stroke-width="1.9"/>
<path d="M224.6 163.0V280.2M178.4 230.8H287.7" stroke="#111" stroke-width="1.1" fill="none"/>
<g font-size="16.8">
<text transform="translate(296.1 178.8) scale(0.925 1)">1.3</text>
<text transform="translate(402.2 178.8) scale(0.925 1)" text-anchor="end">8.3</text>
<text transform="translate(296.5 278.2) scale(0.925 1)">82</text>
<text transform="translate(402.2 278.2) scale(0.925 1)" text-anchor="end">8.4</text>
</g>
<path transform="translate(.8 .8)" d="M360 172h0M364 176h0M368 177h0M371 178h0M364 179h0M374 179h0M361 180h0M366 183h0M342 184h0M354 184h0M356 184h0M355 185h0M360 185h0M362 185h0M365 185h0M372 185h0M359 186h0M363 186h0M352 187h0M360 187h0M364 187h0M366 187h0M376 187h0M379 187h0M363 188h0M369 188h0M364 189h2M356 190h0M360 190h0M366 190h0M356 191h1M363 191h1M367 191h1M375 191h0M358 192h0M371 192h0M356 193h1M366 193h0M368 193h1M324 194h0M357 194h0M359 194h0M362 194h2M384 194h0M346 195h0M350 195h0M354 195h0M356 195h1M359 195h0M361 195h0M366 195h0M354 196h0M356 196h0M358 196h0M360 196h0M362 196h2M369 196h0M377 196h0M316 197h0M327 197h0M339 197h0M349 197h5M357 197h0M359 197h0M361 197h0M366 197h0M368 197h1M373 197h0M351 198h0M353 198h0M358 198h1M361 198h3M346 199h0M351 199h1M356 199h1M360 199h2M364 199h1M374 199h2M348 200h0M350 200h0M353 200h0M356 200h0M358 200h6M368 200h0M325 201h0M340 201h0M349 201h1M357 201h0M359 201h2M365 201h0M368 201h0M372 201h0M374 201h0M381 201h0M346 202h0M351 202h8M361 202h0M364 202h0M366 202h0M368 202h0M379 202h0M323 203h0M345 203h0M347 203h0M351 203h7M360 203h2M364 203h0M366 203h0M368 203h1M372 203h0M337 204h0M342 204h0M347 204h0M349 204h1M353 204h1M357 204h3M365 204h1M368 204h2M375 204h0M306 205h0M327 205h0M335 205h0M343 205h0M346 205h3M351 205h2M355 205h1M358 205h8M368 205h1M347 206h1M350 206h0M352 206h3M358 206h2M362 206h4M371 206h0M374 206h0M322 207h0M332 207h0M335 207h0M341 207h0M345 207h2M351 207h1M354 207h4M360 207h0M362 207h1M365 207h0M369 207h0M316 208h0M335 208h0M341 208h1M350 208h0M353 208h0M355 208h2M359 208h0M361 208h0M363 208h0M366 208h2M371 208h0M374 208h0M320 209h0M323 209h0M329 209h0M340 209h0M347 209h3M352 209h1M355 209h1M359 209h1M362 209h2M366 209h0M369 209h0M371 209h0M320 210h0M322 210h0M343 210h0M347 210h0M351 210h1M354 210h2M358 210h3M363 210h0M322 211h0M327 211h1M337 211h0M339 211h0M346 211h2M350 211h3M355 211h1M358 211h1M361 211h0M363 211h1M366 211h0M372 211h1M315 212h0M335 212h0M339 212h0M342 212h0M345 212h1M349 212h5M356 212h0M359 212h3M364 212h0M368 212h0M336 213h0M339 213h0M341 213h0M343 213h1M347 213h0M349 213h11M362 213h3M368 213h1M312 214h0M314 214h0M324 214h0M326 214h0M330 214h0M337 214h0M342 214h0M346 214h0M348 214h0M351 214h0M353 214h0M355 214h2M359 214h0M361 214h2M365 214h0M368 214h1M337 215h0M341 215h0M346 215h1M350 215h12M365 215h0M367 215h0M369 215h1M373 215h0M329 216h1M340 216h0M342 216h0M345 216h0M348 216h4M354 216h5M361 216h2M365 216h0M315 217h0M330 217h0M334 217h1M339 217h0M344 217h1M347 217h1M351 217h8M362 217h0M364 217h0M376 217h0M320 218h0M323 218h0M336 218h2M340 218h0M342 218h1M345 218h0M347 218h4M353 218h8M364 218h0M366 218h1M310 219h0M312 219h0M317 219h0M325 219h0M330 219h0M334 219h0M336 219h0M340 219h0M343 219h0M347 219h0M349 219h0M351 219h4M359 219h1M362 219h3M370 219h0M372 219h0M312 220h0M323 220h0M333 220h2M341 220h1M348 220h2M352 220h5M359 220h0M361 220h0M363 220h2M371 220h0M318 221h0M324 221h0M326 221h1M330 221h1M336 221h1M341 221h0M343 221h0M346 221h1M350 221h1M353 221h0M355 221h0M358 221h7M369 221h0M376 221h0M318 222h0M320 222h0M322 222h3M327 222h0M330 222h2M336 222h1M341 222h0M344 222h0M346 222h2M350 222h0M352 222h6M360 222h2M364 222h0M375 222h0M311 223h0M329 223h0M337 223h1M340 223h0M342 223h0M345 223h2M350 223h2M354 223h3M359 223h0M361 223h0M363 223h1M366 223h0M370 223h0M374 223h0M313 224h1M321 224h1M329 224h0M332 224h0M336 224h0M340 224h6M348 224h0M352 224h2M356 224h1M360 224h1M365 224h2M369 224h0M306 225h0M310 225h0M318 225h0M331 225h0M333 225h1M336 225h0M339 225h0M343 225h0M345 225h0M347 225h0M349 225h0M351 225h8M361 225h1M365 225h0M367 225h1M312 226h0M322 226h0M325 226h0M327 226h0M331 226h1M338 226h0M343 226h1M347 226h1M351 226h4M357 226h0M361 226h0M363 226h1M315 227h0M317 227h0M330 227h1M338 227h2M342 227h2M346 227h1M350 227h0M352 227h0M354 227h1M357 227h1M361 227h1M364 227h0M367 227h0M369 227h0M377 227h0M320 228h0M323 228h0M327 228h0M335 228h1M339 228h0M341 228h0M344 228h0M348 228h0M350 228h3M356 228h2M360 228h1M363 228h1M367 228h0M370 228h0M320 229h2M324 229h0M327 229h0M329 229h1M333 229h0M340 229h1M343 229h0M347 229h0M350 229h3M358 229h0M360 229h0M362 229h1M366 229h0M369 229h1M310 230h0M317 230h0M320 230h0M331 230h0M336 230h2M340 230h1M344 230h2M348 230h0M350 230h0M352 230h0M355 230h1M358 230h1M362 230h0M367 230h1M328 231h4M336 231h0M338 231h0M340 231h1M343 231h2M347 231h0M349 231h2M354 231h2M363 231h0M366 231h0M310 232h0M324 232h2M328 232h0M330 232h2M337 232h0M339 232h1M343 232h0M345 232h7M354 232h2M359 232h1M364 232h1M380 232h0M317 233h0M320 233h1M324 233h0M332 233h0M335 233h0M339 233h0M344 233h0M348 233h0M353 233h0M357 233h0M359 233h1M363 233h1M368 233h0M316 234h0M318 234h0M320 234h1M323 234h0M329 234h0M333 234h0M337 234h1M341 234h0M346 234h0M349 234h2M353 234h2M357 234h0M359 234h0M361 234h0M367 234h0M374 234h0M311 235h0M315 235h1M319 235h0M321 235h1M325 235h0M327 235h2M335 235h0M337 235h0M339 235h0M348 235h1M352 235h2M356 235h0M358 235h0M362 235h1M311 236h0M318 236h0M321 236h1M325 236h7M335 236h0M339 236h0M341 236h1M344 236h0M347 236h2M351 236h1M357 236h1M360 236h0M366 236h0M378 236h0M321 237h0M331 237h0M333 237h1M338 237h0M349 237h2M355 237h0M357 237h0M361 237h0M363 237h0M312 238h0M314 238h2M319 238h3M324 238h2M332 238h1M335 238h0M337 238h3M343 238h1M346 238h0M349 238h1M357 238h2M361 238h3M370 238h0M307 239h0M319 239h2M324 239h3M331 239h0M333 239h8M343 239h0M345 239h0M348 239h0M350 239h0M355 239h0M357 239h1M361 239h2M366 239h0M372 239h0M311 240h2M321 240h4M327 240h3M332 240h1M335 240h4M341 240h0M343 240h0M346 240h1M349 240h2M365 240h1M310 241h0M312 241h1M315 241h0M317 241h0M320 241h2M324 241h2M329 241h2M333 241h8M345 241h0M347 241h0M349 241h0M354 241h0M356 241h0M358 241h0M361 241h1M365 241h1M369 241h0M307 242h1M310 242h0M314 242h4M321 242h1M326 242h2M330 242h7M345 242h5M353 242h0M355 242h3M360 242h0M362 242h0M364 242h1M303 243h0M305 243h0M310 243h1M314 243h0M317 243h0M320 243h10M332 243h12M346 243h1M353 243h2M360 243h0M362 243h0M364 243h1M367 243h0M369 243h0M373 243h0M306 244h0M308 244h2M312 244h10M324 244h3M329 244h2M333 244h0M335 244h0M337 244h4M344 244h3M349 244h0M352 244h0M356 244h0M358 244h1M364 244h0M377 244h0M299 245h0M301 245h0M306 245h1M309 245h4M315 245h2M319 245h11M332 245h3M338 245h1M342 245h0M344 245h0M348 245h1M355 245h0M360 245h0M299 246h0M302 246h0M307 246h0M309 246h28M339 246h2M343 246h0M348 246h0M350 246h0M352 246h1M355 246h2M359 246h0M362 246h0M364 246h1M369 246h0M299 247h0M307 247h3M314 247h0M317 247h12M331 247h6M341 247h0M344 247h0M346 247h1M349 247h0M357 247h1M363 247h0M366 247h0M308 248h1M311 248h3M316 248h20M338 248h2M342 248h0M344 248h0M346 248h0M350 248h0M352 248h0M354 248h1M359 248h1M368 248h0M304 249h1M309 249h3M314 249h10M326 249h16M347 249h0M349 249h5M359 249h1M363 249h2M308 250h32M342 250h0M346 250h0M348 250h0M350 250h0M352 250h0M355 250h0M357 250h0M360 250h0M362 250h1M365 250h0M367 250h0M371 250h0M298 251h0M300 251h0M302 251h2M306 251h28M336 251h2M341 251h0M343 251h1M346 251h0M353 251h0M360 251h0M364 251h0M370 251h0M302 252h0M305 252h36M343 252h1M350 252h0M352 252h1M355 252h2M359 252h0M361 252h1M367 252h1M300 253h0M306 253h35M343 253h1M346 253h0M349 253h1M352 253h0M354 253h0M356 253h1M359 253h1M362 253h1M370 253h0M373 253h0M301 254h0M304 254h31M337 254h9M348 254h1M351 254h2M355 254h1M358 254h0M361 254h0M366 254h0M383 254h0M298 255h0M301 255h1M304 255h3M309 255h30M343 255h0M345 255h0M347 255h0M352 255h0M354 255h0M356 255h1M359 255h0M361 255h0M372 255h0M295 256h1M301 256h1M307 256h30M339 256h1M344 256h2M349 256h0M351 256h5M358 256h0M361 256h0M302 257h3M307 257h34M345 257h0M347 257h0M350 257h2M354 257h0M360 257h0M362 257h1M366 257h0M302 258h39M343 258h6M351 258h0M353 258h0M355 258h0M357 258h0M359 258h0M361 258h1M303 259h0M307 259h37M346 259h4M360 259h0M362 259h0M300 260h0M303 260h0M305 260h0M307 260h34M343 260h1M351 260h0M353 260h2M357 260h4M365 260h0M368 260h0M295 261h0M301 261h0M305 261h34M341 261h9M355 261h0M361 261h0M364 261h1M369 261h0M304 262h37M343 262h3M351 262h0M353 262h2M361 262h0M364 262h0M366 262h0M296 263h1M299 263h0M301 263h0M306 263h37M345 263h1M348 263h2M354 263h1M360 263h0M362 263h0M298 264h0M303 264h2M307 264h35M344 264h0M348 264h0M350 264h0M357 264h0M359 264h0M361 264h0M363 264h0M365 264h0M299 265h0M303 265h37M342 265h3M347 265h0M349 265h0M354 265h2M358 265h0M368 265h0M299 266h0M302 266h1M305 266h39M348 266h0M351 266h0M356 266h1M363 266h0M303 267h1M306 267h34M342 267h2M349 267h0M353 267h0M363 267h0M365 267h0M370 267h0M373 267h0M302 268h0M304 268h34M340 268h0M342 268h1M345 268h0M347 268h0M351 268h0M353 268h1M356 268h0M302 269h36M344 269h0M347 269h0M349 269h0M352 269h0M361 269h0M302 270h2M306 270h0M308 270h31M341 270h0M343 270h0M345 270h0M347 270h0M352 270h0M355 270h0M357 270h1M362 270h0M367 270h0M299 271h0M301 271h0M303 271h2M307 271h27M336 271h3M341 271h1M345 271h0M348 271h0M353 271h1M297 272h0M306 272h5M314 272h22M339 272h0M341 272h0M343 272h1M352 272h0M354 272h0M356 272h0M361 272h0M368 272h1M302 273h0M306 273h4M312 273h21M336 273h3M342 273h0M356 273h1M299 274h0M303 274h0M309 274h30M341 274h0M347 274h1M353 274h0M355 274h0M358 274h0M297 275h0M308 275h0M310 275h20M332 275h0M334 275h3M339 275h0M341 275h0M346 275h0M348 275h0M355 275h0M297 276h0M299 276h0M305 276h0M310 276h4M316 276h19M337 276h3M342 276h0M352 276h0M359 276h0M366 276h0M298 277h0M309 277h0M311 277h1M314 277h3M319 277h9M330 277h3M335 277h0M349 277h0M361 277h0M300 278h0M302 278h0M304 278h0M306 278h0M310 278h1M313 278h13M328 278h5M338 278h0M340 278h0M342 278h0M346 278h0M299 279h0M302 279h0M304 279h0M306 279h35M344 279h0M347 279h2M351 279h4M363 279h0" stroke="#000" stroke-width="1.12" stroke-linecap="square" fill="none"/>
<path d="M290.9 254.5H294.5M290.9 227.5H294.5M290.9 200.5H294.5M290.9 173.5H294.5M302.5 280.2V284.3M329.5 280.2V284.3M356.5 280.2V284.3M383.5 280.2V284.3" stroke="#000" stroke-width="1.3" fill="none"/>
<path d="M292.2 273.4H294.5M292.2 268.6H294.5M292.2 265.2H294.5M292.2 262.6H294.5M292.2 260.5H294.5M292.2 258.7H294.5M292.2 257.1H294.5M292.2 255.7H294.5M292.2 246.4H294.5M292.2 241.6H294.5M292.2 238.2H294.5M292.2 235.6H294.5M292.2 233.5H294.5M292.2 231.7H294.5M292.2 230.1H294.5M292.2 228.7H294.5M292.2 219.4H294.5M292.2 214.6H294.5M292.2 211.2H294.5M292.2 208.6H294.5M292.2 206.5H294.5M292.2 204.7H294.5M292.2 203.1H294.5M292.2 201.7H294.5M292.2 192.4H294.5M292.2 187.6H294.5M292.2 184.2H294.5M292.2 181.6H294.5M292.2 179.5H294.5M292.2 177.7H294.5M292.2 176.1H294.5M292.2 174.7H294.5M292.2 165.4H294.5M296.5 280.2V283.3M298.3 280.2V283.3M299.9 280.2V283.3M301.3 280.2V283.3M310.6 280.2V283.3M315.4 280.2V283.3M318.8 280.2V283.3M321.4 280.2V283.3M323.5 280.2V283.3M325.3 280.2V283.3M326.9 280.2V283.3M328.3 280.2V283.3M337.6 280.2V283.3M342.4 280.2V283.3M345.8 280.2V283.3M348.4 280.2V283.3M350.5 280.2V283.3M352.3 280.2V283.3M353.9 280.2V283.3M355.3 280.2V283.3M364.6 280.2V283.3M369.4 280.2V283.3M372.8 280.2V283.3M375.4 280.2V283.3M377.5 280.2V283.3M379.3 280.2V283.3M380.9 280.2V283.3M382.3 280.2V283.3M391.6 280.2V283.3M396.4 280.2V283.3M399.8 280.2V283.3M402.4 280.2V283.3" stroke="#000" stroke-width=".95" fill="none"/>
<path d="M294.5 163.0H403.8V280.2" fill="none" stroke="#222" stroke-width="1.15"/>
<path d="M294.5 162.4V280.2" fill="none" stroke="#000" stroke-width="1.4"/>
<path d="M293.8 280.2H404.4M294.8 266.2V280.2" fill="none" stroke="#000" stroke-width="1.9"/>
<path d="M340.7 163.0V280.2M294.5 230.8H403.8" stroke="#111" stroke-width="1.1" fill="none"/>
<g font-size="16.8">
<text transform="translate(411.8 178.8) scale(0.925 1)">1.2</text>
<text transform="translate(517.9 178.8) scale(0.925 1)" text-anchor="end">4.3</text>
<text transform="translate(412.2 278.2) scale(0.925 1)">91</text>
<text transform="translate(517.9 278.2) scale(0.925 1)" text-anchor="end">3.6</text>
</g>
<path transform="translate(.8 .8)" d="M459 179h0M457 186h0M463 187h0M476 191h0M446 192h0M477 192h0M467 193h0M474 193h0M479 193h0M483 193h0M457 194h0M481 195h0M478 196h0M480 196h0M482 196h0M431 197h0M441 197h0M446 197h0M459 197h0M461 197h2M471 197h0M477 197h0M447 198h0M471 198h0M453 199h0M459 199h0M464 199h0M469 199h0M472 199h1M475 199h0M485 199h0M425 200h0M450 200h0M452 200h0M470 200h0M476 200h2M437 201h0M451 201h0M454 201h0M456 201h0M468 201h0M470 201h1M473 201h1M476 201h0M484 201h0M441 202h0M456 202h0M461 202h1M473 202h0M475 202h0M481 202h0M450 203h0M466 203h0M468 203h0M470 203h1M473 203h0M477 203h0M428 204h0M453 204h0M456 204h1M471 204h0M474 204h1M478 204h1M482 204h0M434 205h0M456 205h1M467 205h0M471 205h1M474 205h0M476 205h2M483 205h0M489 205h0M459 206h0M465 206h1M468 206h0M470 206h0M472 206h5M479 206h0M483 206h0M490 206h1M435 207h0M450 207h0M457 207h0M467 207h2M471 207h0M473 207h4M480 207h0M462 208h0M464 208h0M467 208h4M475 208h0M477 208h2M481 208h1M412 209h0M430 209h0M456 209h0M459 209h0M461 209h0M467 209h0M469 209h1M472 209h3M448 210h0M462 210h1M468 210h1M471 210h0M474 210h0M477 210h1M480 210h0M455 211h0M458 211h2M462 211h0M466 211h0M468 211h0M470 211h2M474 211h6M490 211h0M438 212h0M453 212h0M461 212h0M465 212h0M468 212h1M471 212h2M475 212h0M477 212h0M440 213h1M454 213h0M457 213h0M461 213h0M463 213h0M465 213h9M478 213h0M432 214h0M448 214h0M464 214h0M468 214h6M476 214h0M478 214h1M482 214h0M421 215h0M433 215h0M438 215h0M440 215h0M449 215h0M451 215h0M459 215h0M462 215h0M464 215h0M466 215h7M475 215h3M480 215h0M487 215h0M437 216h0M458 216h0M462 216h0M465 216h10M445 217h1M455 217h0M462 217h0M464 217h1M467 217h0M469 217h1M472 217h1M477 217h3M423 218h0M433 218h0M443 218h0M459 218h0M463 218h1M467 218h8M478 218h0M436 219h0M439 219h1M445 219h0M451 219h0M453 219h0M464 219h8M474 219h0M476 219h0M480 219h0M482 219h0M431 220h0M440 220h0M442 220h0M456 220h0M458 220h3M464 220h0M466 220h1M471 220h2M475 220h1M480 220h0M450 221h0M453 221h0M457 221h0M459 221h0M461 221h0M464 221h10M437 222h0M440 222h0M446 222h1M449 222h0M453 222h0M455 222h5M463 222h0M465 222h5M472 222h0M474 222h4M429 223h0M433 223h0M437 223h1M441 223h0M447 223h0M453 223h1M457 223h2M462 223h0M465 223h0M467 223h2M474 223h1M477 223h0M479 223h0M482 223h0M445 224h1M448 224h0M453 224h1M464 224h4M471 224h1M474 224h0M476 224h0M481 224h0M486 224h1M428 225h0M444 225h0M447 225h0M449 225h0M452 225h0M455 225h0M457 225h0M461 225h0M464 225h0M466 225h3M471 225h0M473 225h0M485 225h0M440 226h0M444 226h0M448 226h2M455 226h1M459 226h3M464 226h4M470 226h0M474 226h0M428 227h0M430 227h0M439 227h0M441 227h3M449 227h1M452 227h0M454 227h0M458 227h0M460 227h0M464 227h1M467 227h2M471 227h3M436 228h0M439 228h0M442 228h0M446 228h0M451 228h1M454 228h1M460 228h0M462 228h0M468 228h0M471 228h2M486 228h0M422 229h0M426 229h0M434 229h0M440 229h4M451 229h0M454 229h1M459 229h0M461 229h8M471 229h0M473 229h0M424 230h0M439 230h1M448 230h0M450 230h0M452 230h0M454 230h0M457 230h3M462 230h0M464 230h1M471 230h0M480 230h0M421 231h0M431 231h1M434 231h0M440 231h0M446 231h0M448 231h0M450 231h5M459 231h0M462 231h2M467 231h1M471 231h0M473 231h0M479 231h0M428 232h0M433 232h0M436 232h0M438 232h3M443 232h0M446 232h2M451 232h1M455 232h0M457 232h2M461 232h1M464 232h0M467 232h1M473 232h0M427 233h0M434 233h0M441 233h0M443 233h0M445 233h0M448 233h1M451 233h2M456 233h0M458 233h0M460 233h0M462 233h2M467 233h0M421 234h0M434 234h0M438 234h0M440 234h0M443 234h3M448 234h2M453 234h0M455 234h0M458 234h1M462 234h1M465 234h0M468 234h0M474 234h0M426 235h0M428 235h1M432 235h0M435 235h0M437 235h0M440 235h0M442 235h1M445 235h1M451 235h4M457 235h1M460 235h0M464 235h1M467 235h1M470 235h0M485 235h0M419 236h0M425 236h0M432 236h2M437 236h0M439 236h4M445 236h14M461 236h1M464 236h1M470 236h0M474 236h1M422 237h0M429 237h0M435 237h0M438 237h10M453 237h0M455 237h0M457 237h2M465 237h0M467 237h0M469 237h0M472 237h0M474 237h0M419 238h0M423 238h1M426 238h5M433 238h1M437 238h4M446 238h4M452 238h0M454 238h0M456 238h2M462 238h1M466 238h0M468 238h0M471 238h0M473 238h0M416 239h0M418 239h0M426 239h2M433 239h0M435 239h8M445 239h3M450 239h2M454 239h1M460 239h0M472 239h1M416 240h0M420 240h0M422 240h0M424 240h0M427 240h0M429 240h0M431 240h1M435 240h9M446 240h4M452 240h6M460 240h0M463 240h0M469 240h0M427 241h0M429 241h3M434 241h0M437 241h0M439 241h3M444 241h3M449 241h0M451 241h2M455 241h0M459 241h2M466 241h3M472 241h2M418 242h0M424 242h5M431 242h19M453 242h1M456 242h1M459 242h1M464 242h1M471 242h0M473 242h0M422 243h0M425 243h3M431 243h18M451 243h9M417 244h1M420 244h0M423 244h0M425 244h0M427 244h0M429 244h24M455 244h2M459 244h0M461 244h1M465 244h1M475 244h0M413 245h0M418 245h0M421 245h2M425 245h2M429 245h34M467 245h1M478 245h0M418 246h2M426 246h1M430 246h22M454 246h2M458 246h1M461 246h0M463 246h0M466 246h0M471 246h0M416 247h0M422 247h0M425 247h2M429 247h27M458 247h0M460 247h0M462 247h2M467 247h0M469 247h0M471 247h0M476 247h1M418 248h0M420 248h3M425 248h30M457 248h2M461 248h1M466 248h0M469 248h1M418 249h0M420 249h2M424 249h0M426 249h33M461 249h0M463 249h0M465 249h0M467 249h0M469 249h2M476 249h0M411 250h0M415 250h1M418 250h40M460 250h3M465 250h1M468 250h0M411 251h1M414 251h1M417 251h0M421 251h36M459 251h1M462 251h0M464 251h2M468 251h0M471 251h0M415 252h1M422 252h33M457 252h4M463 252h3M472 252h0M413 253h1M418 253h5M425 253h37M464 253h0M466 253h0M469 253h0M471 253h0M415 254h42M460 254h3M467 254h0M470 254h0M478 254h0M414 255h0M416 255h1M420 255h41M463 255h0M467 255h0M470 255h0M472 255h0M413 256h0M415 256h0M417 256h2M422 256h1M425 256h37M464 256h1M467 256h1M470 256h0M478 256h0M413 257h1M418 257h1M421 257h40M463 257h1M468 257h0M471 257h0M475 257h1M417 258h2M421 258h43M466 258h2M471 258h0M474 258h0M482 258h0M419 259h2M423 259h40M466 259h0M470 259h1M411 260h1M414 260h1M417 260h0M419 260h0M421 260h41M464 260h0M472 260h2M480 260h1M414 261h1M418 261h42M463 261h0M468 261h0M479 261h0M417 262h2M422 262h0M424 262h41M467 262h1M473 262h0M412 263h2M419 263h0M421 263h1M424 263h37M466 263h0M468 263h0M470 263h0M474 263h0M416 264h2M420 264h45M470 264h1M416 265h1M419 265h42M464 265h0M466 265h0M470 265h0M473 265h0M415 266h2M419 266h40M462 266h0M465 266h1M479 266h0M412 267h0M416 267h44M465 267h1M474 267h0M415 268h4M421 268h42M466 268h2M413 269h0M419 269h0M421 269h36M459 269h4M465 269h0M467 269h0M412 270h0M417 270h0M420 270h40M462 270h0M470 270h0M411 271h0M413 271h0M419 271h0M421 271h34M458 271h1M415 272h0M417 272h36M455 272h1M458 272h0M460 272h0M463 272h1M466 272h0M468 272h0M413 273h0M415 273h1M418 273h0M420 273h0M423 273h36M461 273h0M463 273h0M466 273h0M469 273h0M472 273h1M418 274h0M420 274h29M451 274h1M457 274h0M460 274h1M413 275h0M419 275h0M422 275h0M424 275h1M427 275h26M455 275h3M460 275h2M464 275h0M467 275h0M412 276h0M414 276h0M419 276h1M422 276h11M435 276h22M414 277h0M417 277h0M420 277h0M422 277h1M425 277h26M453 277h4M462 277h0M413 278h0M416 278h0M422 278h0M424 278h3M429 278h2M433 278h11M446 278h3M451 278h6M460 278h1M463 278h0M466 278h0M415 279h0M418 279h39M459 279h0M468 279h0M470 279h1" stroke="#000" stroke-width="1.12" stroke-linecap="square" fill="none"/>
<path d="M406.6 254.5H410.2M406.6 227.5H410.2M406.6 200.5H410.2M406.6 173.5H410.2M418.2 280.2V284.3M445.2 280.2V284.3M472.2 280.2V284.3M499.2 280.2V284.3" stroke="#000" stroke-width="1.3" fill="none"/>
<path d="M407.9 273.4H410.2M407.9 268.6H410.2M407.9 265.2H410.2M407.9 262.6H410.2M407.9 260.5H410.2M407.9 258.7H410.2M407.9 257.1H410.2M407.9 255.7H410.2M407.9 246.4H410.2M407.9 241.6H410.2M407.9 238.2H410.2M407.9 235.6H410.2M407.9 233.5H410.2M407.9 231.7H410.2M407.9 230.1H410.2M407.9 228.7H410.2M407.9 219.4H410.2M407.9 214.6H410.2M407.9 211.2H410.2M407.9 208.6H410.2M407.9 206.5H410.2M407.9 204.7H410.2M407.9 203.1H410.2M407.9 201.7H410.2M407.9 192.4H410.2M407.9 187.6H410.2M407.9 184.2H410.2M407.9 181.6H410.2M407.9 179.5H410.2M407.9 177.7H410.2M407.9 176.1H410.2M407.9 174.7H410.2M407.9 165.4H410.2M412.2 280.2V283.3M414.0 280.2V283.3M415.6 280.2V283.3M417.0 280.2V283.3M426.3 280.2V283.3M431.1 280.2V283.3M434.5 280.2V283.3M437.1 280.2V283.3M439.2 280.2V283.3M441.0 280.2V283.3M442.6 280.2V283.3M444.0 280.2V283.3M453.3 280.2V283.3M458.1 280.2V283.3M461.5 280.2V283.3M464.1 280.2V283.3M466.2 280.2V283.3M468.0 280.2V283.3M469.6 280.2V283.3M471.0 280.2V283.3M480.3 280.2V283.3M485.1 280.2V283.3M488.5 280.2V283.3M491.1 280.2V283.3M493.2 280.2V283.3M495.0 280.2V283.3M496.6 280.2V283.3M498.0 280.2V283.3M507.3 280.2V283.3M512.1 280.2V283.3M515.5 280.2V283.3M518.1 280.2V283.3" stroke="#000" stroke-width=".95" fill="none"/>
<path d="M410.2 163.0H519.5V280.2" fill="none" stroke="#222" stroke-width="1.15"/>
<path d="M410.2 162.4V280.2" fill="none" stroke="#000" stroke-width="1.4"/>
<path d="M409.5 280.2H520.0M410.5 266.2V280.2" fill="none" stroke="#000" stroke-width="1.9"/>
<path d="M456.4 163.0V280.2M410.2 230.8H519.5" stroke="#111" stroke-width="1.1" fill="none"/>
<text x="15" y="342.6" font-size="16" font-weight="bold" fill="#111" textLength="10.6" lengthAdjust="spacingAndGlyphs">B</text>
<rect x="103.75" y="504.90" width="29.70" height="71.50" fill="#000" stroke="#000" stroke-width="2.6"/>
<path d="M118.60 504.90V501.30M110.30 501.30H126.90" stroke="#000" stroke-width="2.5" fill="none"/>
<rect x="133.45" y="407.80" width="30.05" height="168.60" fill="#a3a3a3" stroke="#000" stroke-width="2.6"/>
<path d="M148.47 407.80V399.60M140.17 399.60H156.78" stroke="#000" stroke-width="2.5" fill="none"/>
<rect x="163.50" y="525.60" width="29.30" height="50.80" fill="#fff" stroke="#000" stroke-width="2.6"/>
<path d="M178.15 525.60V523.30M169.85 523.30H186.45" stroke="#000" stroke-width="2.5" fill="none"/>
<rect x="192.80" y="442.90" width="29.75" height="133.50" fill="#fff" stroke="#000" stroke-width="2.6"/>
<path d="M198.75 442.90V576.40M204.70 442.90V576.40M210.65 442.90V576.40M216.60 442.90V576.40" stroke="#000" stroke-width="1.7" fill="none"/>
<path d="M207.68 442.90V432.70M199.38 432.70H215.98" stroke="#000" stroke-width="2.5" fill="none"/>
<rect x="252.00" y="509.80" width="29.60" height="66.60" fill="#000" stroke="#000" stroke-width="2.6"/>
<path d="M266.80 509.80V506.00M258.50 506.00H275.10" stroke="#000" stroke-width="2.5" fill="none"/>
<rect x="281.60" y="509.80" width="29.90" height="66.60" fill="#a3a3a3" stroke="#000" stroke-width="2.6"/>
<path d="M296.55 509.80V502.30M288.25 502.30H304.85" stroke="#000" stroke-width="2.5" fill="none"/>
<rect x="311.50" y="523.40" width="29.30" height="53.00" fill="#fff" stroke="#000" stroke-width="2.6"/>
<path d="M326.15 523.40V513.00M317.85 513.00H334.45" stroke="#000" stroke-width="2.5" fill="none"/>
<rect x="340.80" y="542.40" width="29.90" height="34.00" fill="#fff" stroke="#000" stroke-width="2.6"/>
<path d="M346.78 542.40V576.40M352.76 542.40V576.40M358.74 542.40V576.40M364.72 542.40V576.40" stroke="#000" stroke-width="1.7" fill="none"/>
<path d="M355.75 542.40V535.80M347.45 535.80H364.05" stroke="#000" stroke-width="2.5" fill="none"/>
<path d="M89.2 377.2V578.15M87.5 576.4H386.8" stroke="#000" stroke-width="3.6" fill="none"/>
<path d="M80.4 576.40H89M80.4 526.92H89M80.4 477.45H89M80.4 427.98H89M80.4 378.50H89" stroke="#000" stroke-width="2.8" fill="none"/>
<path d="M163 576.4V583.8M311 576.4V583.8" stroke="#000" stroke-width="3.6" fill="none"/>
<g font-size="13.6" font-weight="bold" text-anchor="end">
<text x="80.8" y="583.2" textLength="7.2" lengthAdjust="spacingAndGlyphs">0</text>
<text x="80.8" y="533.7" textLength="15.4" lengthAdjust="spacingAndGlyphs">10</text>
<text x="80.8" y="484.2" textLength="15.4" lengthAdjust="spacingAndGlyphs">20</text>
<text x="80.8" y="434.8" textLength="15.4" lengthAdjust="spacingAndGlyphs">30</text>
<text x="80.8" y="385.3" textLength="15.4" lengthAdjust="spacingAndGlyphs">40</text>
</g>
<g font-size="14" font-weight="bold">
<text x="119.2" y="597.6" textLength="90.6" lengthAdjust="spacingAndGlyphs">Lymph Node</text>
<text x="291.4" y="597.6" textLength="42.6" lengthAdjust="spacingAndGlyphs">Blood</text>
</g>
<text transform="translate(56.9 548.2) rotate(-90)" font-size="16.8" font-weight="bold" textLength="134" lengthAdjust="spacingAndGlyphs">% CD25+ FoxP3+</text>
<g font-size="16.5" text-anchor="middle" font-family="'DejaVu Sans', sans-serif" stroke="#000" stroke-width=".45">
<text transform="translate(147.5 390) scale(1.06 .9)">*</text>
<text transform="translate(207.3 424.5) scale(1.06 .9)">*</text>
</g>
<rect x="371.4" y="367.3" width="28.6" height="10.6" fill="#000" stroke="#000" stroke-width="2.6"/>
<rect x="371.4" y="391.1" width="28.6" height="10.2" fill="#a3a3a3" stroke="#000" stroke-width="2.6"/>
<rect x="371.4" y="414.6" width="28.6" height="11.2" fill="#fff" stroke="#000" stroke-width="2.6"/>
<rect x="371.4" y="438" width="28.6" height="11.2" fill="#fff" stroke="#000" stroke-width="2.6"/>
<path d="M377.1 438v11.2M382.8 438v11.2M388.6 438v11.2M394.3 438v11.2" stroke="#000" stroke-width="1.7" fill="none"/>
<g font-size="15.8" fill="#111">
<text x="409.6" y="378.4" textLength="69" lengthAdjust="spacingAndGlyphs">Untreated</text>
<text x="405.3" y="401.9" textLength="73.6" lengthAdjust="spacingAndGlyphs">Anti-LFA-1</text>
<text x="404.6" y="425.8" textLength="73.4" lengthAdjust="spacingAndGlyphs">CTLA-4 Ig</text>
<text x="404.6" y="449.2" textLength="88.4" lengthAdjust="spacingAndGlyphs">CTLA-4 Ig +</text>
<text x="405.3" y="468.8" textLength="73.6" lengthAdjust="spacingAndGlyphs">Anti-LFA-1</text>
</g>
</svg>
</body></html>
